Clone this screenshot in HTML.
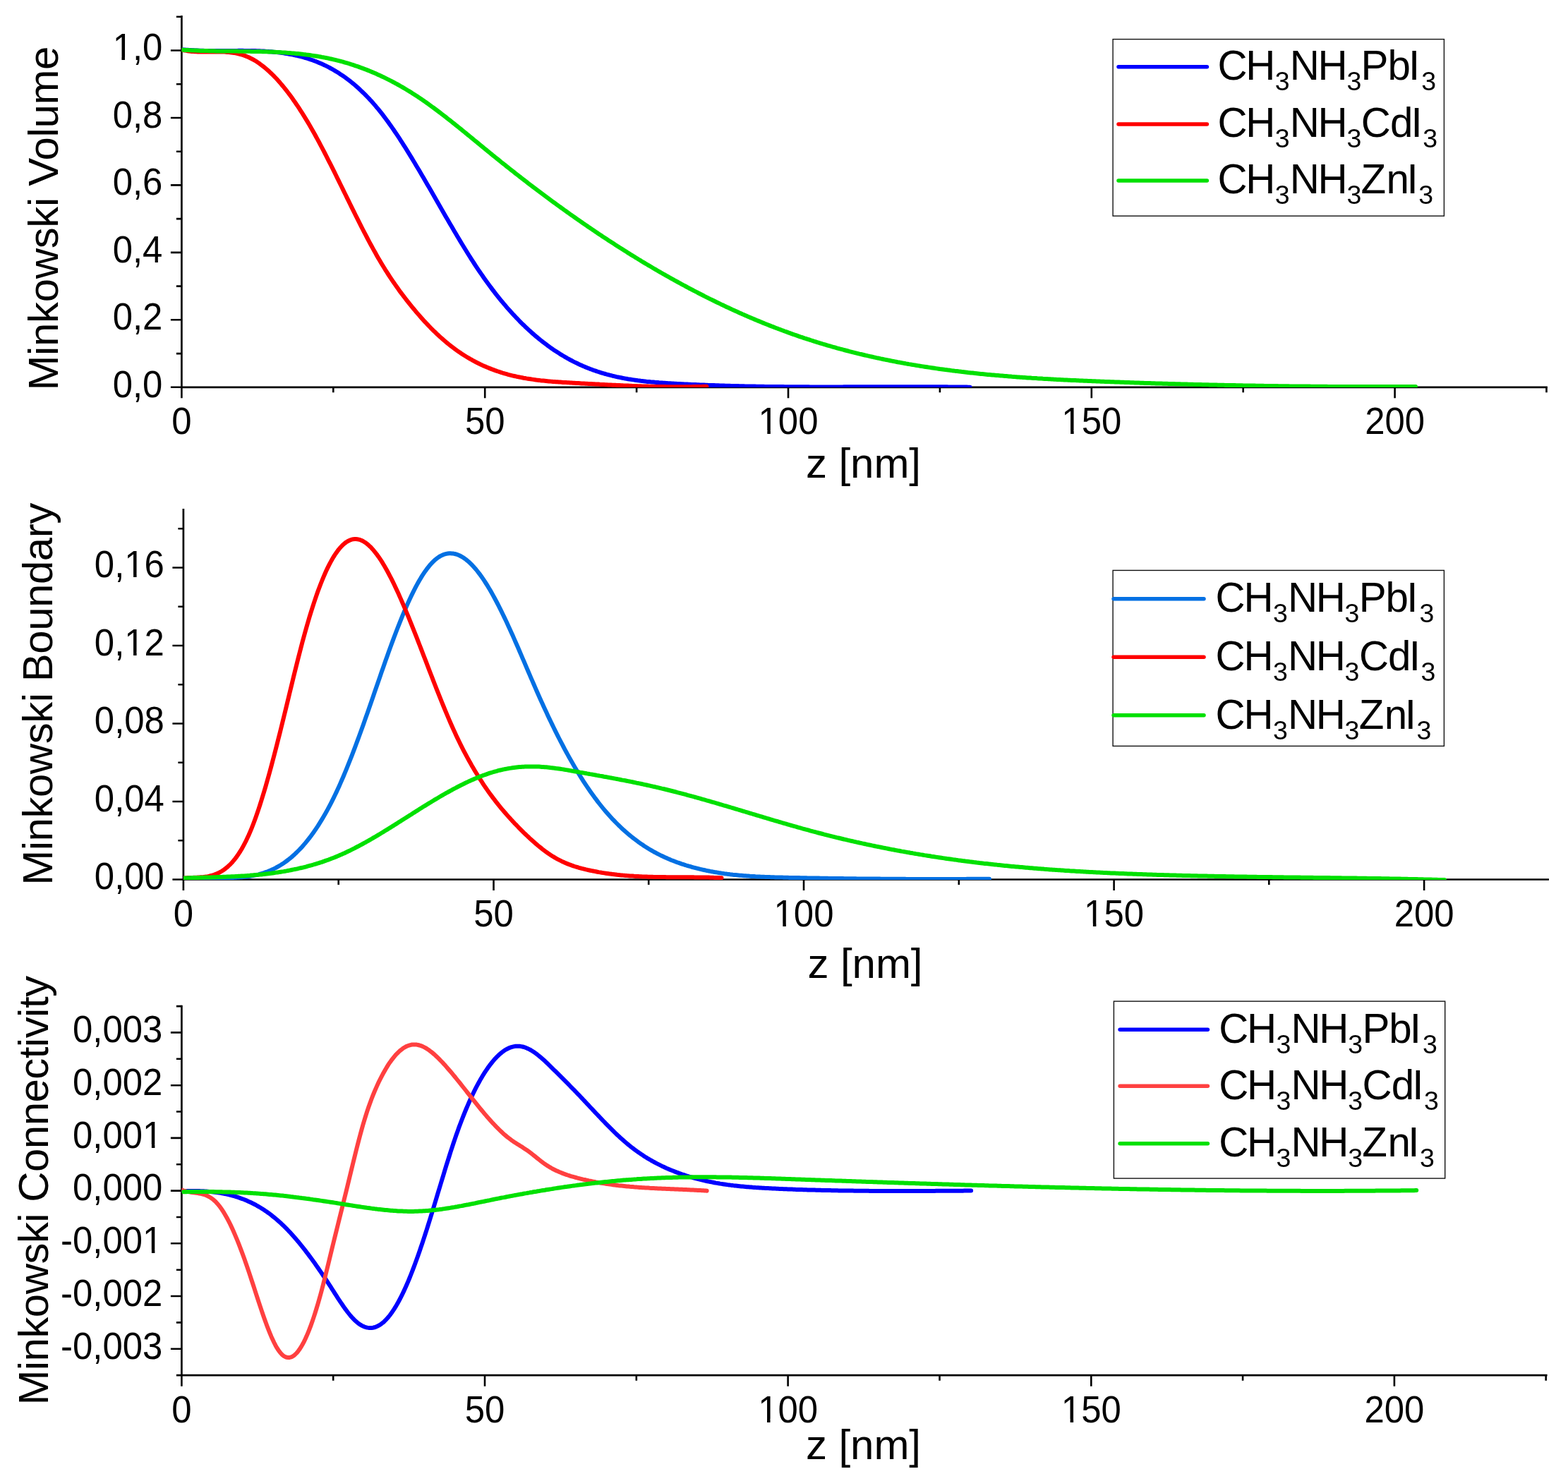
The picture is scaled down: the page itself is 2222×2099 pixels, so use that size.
<!DOCTYPE html>
<html><head><meta charset="utf-8"><title>Minkowski functionals</title>
<style>html,body{margin:0;padding:0;background:#fff;width:2222px;height:2099px;overflow:hidden}svg{display:block}</style>
</head><body>
<svg xmlns="http://www.w3.org/2000/svg" width="2222" height="2099" viewBox="0 0 2222 2099" font-family="'Liberation Sans', Arial, Helvetica, sans-serif">
<rect width="2222" height="2099" fill="#fff"/>
<path d="M257.4 22V548.8H2192.9" fill="none" stroke="#000" stroke-width="2.7" stroke-linecap="butt"/>
<path d="M241.9 548.8H257.4M241.9 453.3H257.4M241.9 357.9H257.4M241.9 262.4H257.4M241.9 167H257.4M241.9 71.5H257.4M249.9 501.1H257.4M249.9 405.6H257.4M249.9 310.1H257.4M249.9 214.7H257.4M249.9 119.2H257.4M249.9 23.8H257.4M257.4 548.8V564.3M687.2 548.8V564.3M1117 548.8V564.3M1546.8 548.8V564.3M1976.6 548.8V564.3M472.3 548.8V556.3M902.1 548.8V556.3M1331.9 548.8V556.3M1761.7 548.8V556.3M2191.5 548.8V556.3" fill="none" stroke="#000" stroke-width="2.6"/>
<g transform="translate(230.40 562.60) scale(1 1.045)"><text x="0" y="0" font-size="50.9" text-anchor="end">0,0</text></g>
<g transform="translate(230.40 467.14) scale(1 1.045)"><text x="0" y="0" font-size="50.9" text-anchor="end">0,2</text></g>
<g transform="translate(230.40 371.68) scale(1 1.045)"><text x="0" y="0" font-size="50.9" text-anchor="end">0,4</text></g>
<g transform="translate(230.40 276.22) scale(1 1.045)"><text x="0" y="0" font-size="50.9" text-anchor="end">0,6</text></g>
<g transform="translate(230.40 180.76) scale(1 1.045)"><text x="0" y="0" font-size="50.9" text-anchor="end">0,8</text></g>
<g transform="translate(230.40 85.30) scale(1 1.045)"><text x="0" y="0" font-size="50.9" text-anchor="end">1,0</text><path d="M-68.03 -4.40H-57.96V1.2H-68.03ZM-53.46 -4.40H-43.79V1.2H-53.46Z" fill="#fff"/></g>
<g transform="translate(257.40 614.60) scale(1 1.045)"><text x="0" y="0" font-size="50.9" text-anchor="middle">0</text></g>
<g transform="translate(687.20 614.60) scale(1 1.045)"><text x="0" y="0" font-size="50.9" text-anchor="middle">50</text></g>
<g transform="translate(1117.00 614.60) scale(1 1.045)"><text x="0" y="0" font-size="50.9" text-anchor="middle">100</text><path d="M-39.73 -4.40H-29.66V1.2H-39.73ZM-25.16 -4.40H-15.49V1.2H-25.16Z" fill="#fff"/></g>
<g transform="translate(1546.80 614.60) scale(1 1.045)"><text x="0" y="0" font-size="50.9" text-anchor="middle">150</text><path d="M-39.73 -4.40H-29.66V1.2H-39.73ZM-25.16 -4.40H-15.49V1.2H-25.16Z" fill="#fff"/></g>
<g transform="translate(1976.60 614.60) scale(1 1.045)"><text x="0" y="0" font-size="50.9" text-anchor="middle">200</text></g>
<text x="1142" y="677.3" font-size="60" textLength="163" lengthAdjust="spacing">z [nm]</text>
<text transform="translate(82.2 553.5) rotate(-90)" font-size="60" textLength="488" lengthAdjust="spacing">Minkowski Volume</text>
<clipPath id="c1"><rect x="257.4" y="0" width="1934.6" height="549.1"/></clipPath><g clip-path="url(#c1)">
<path d="M258 70.2 260 70.4 262 70.5 264 70.7 266 70.8 268 71 270 71.1 272 71.2 274 71.3 276 71.4 278 71.5 280 71.6 282 71.7 284 71.7 286 71.8 288 71.8 290 71.9 292 71.9 294 72 296 72 298 72 300 72 302 72 304 72 306 72 308 72 310 72 312 72 314 72 316 72 318 72 320 72 322 71.9 324 71.9 326 71.9 328 71.9 330 71.9 332 71.9 334 71.9 336 71.9 338 71.8 340 71.8 342 71.8 344 71.8 346 71.9 348 71.9 350 71.9 352 71.9 354 71.9 356 72 358 72 360 72.1 362 72.1 364 72.2 366 72.3 368 72.3 370 72.4 372 72.5 374 72.6 376 72.7 378 72.9 380 73 382 73.2 384 73.3 386 73.5 388 73.7 390 73.9 392 74.1 394 74.3 396 74.6 398 74.8 400 75.1 402 75.4 404 75.7 406 76 408 76.3 410 76.7 412 77 414 77.4 416 77.8 418 78.3 420 78.7 422 79.2 424 79.6 426 80.2 428 80.7 430 81.2 432 81.8 434 82.4 436 83 438 83.7 440 84.3 442 85 444 85.7 446 86.5 448 87.2 450 88 452 88.9 454 89.7 456 90.6 458 91.5 460 92.4 462 93.4 464 94.4 466 95.4 468 96.5 470 97.6 472 98.7 474 99.9 476 101.1 478 102.3 480 103.6 482 104.9 484 106.2 486 107.5 488 108.9 490 110.4 492 111.9 494 113.4 496 114.9 498 116.5 500 118.1 502 119.8 504 121.5 506 123.3 508 125.1 510 126.9 512 128.8 514 130.7 516 132.6 518 134.6 520 136.7 522 138.8 524 140.9 526 143.1 528 145.3 530 147.6 532 149.9 534 152.3 536 154.7 538 157.2 540 159.7 542 162.2 544 164.8 546 167.5 548 170.2 550 172.9 552 175.7 554 178.5 556 181.4 558 184.3 560 187.2 562 190.2 564 193.2 566 196.2 568 199.3 570 202.4 572 205.6 574 208.7 576 211.9 578 215.1 580 218.3 582 221.6 584 224.9 586 228.2 588 231.5 590 234.9 592 238.2 594 241.6 596 245 598 248.4 600 251.8 602 255.3 604 258.7 606 262.2 608 265.6 610 269.1 612 272.6 614 276 616 279.5 618 283 620 286.5 622 290 624 293.5 626 296.9 628 300.4 630 303.9 632 307.4 634 310.8 636 314.3 638 317.7 640 321.1 642 324.5 644 327.9 646 331.3 648 334.7 650 338.1 652 341.4 654 344.7 656 348 658 351.3 660 354.5 662 357.8 664 361 666 364.1 668 367.3 670 370.4 672 373.5 674 376.6 676 379.6 678 382.6 680 385.5 682 388.4 684 391.3 686 394.2 688 397 690 399.8 692 402.5 694 405.2 696 407.9 698 410.6 700 413.2 702 415.8 704 418.3 706 420.8 708 423.3 710 425.8 712 428.2 714 430.6 716 432.9 718 435.3 720 437.6 722 439.8 724 442 726 444.2 728 446.4 730 448.5 732 450.7 734 452.7 736 454.8 738 456.8 740 458.8 742 460.7 744 462.7 746 464.6 748 466.4 750 468.3 752 470.1 754 471.9 756 473.6 758 475.4 760 477.1 762 478.7 764 480.4 766 482 768 483.6 770 485.2 772 486.7 774 488.2 776 489.7 778 491.1 780 492.6 782 494 784 495.4 786 496.7 788 498 790 499.3 792 500.6 794 501.9 796 503.1 798 504.3 800 505.5 802 506.6 804 507.8 806 508.9 808 510 810 511 812 512.1 814 513.1 816 514.1 818 515 820 516 822 516.9 824 517.8 826 518.7 828 519.5 830 520.4 832 521.2 834 522 836 522.8 838 523.5 840 524.3 842 525 844 525.7 846 526.4 848 527 850 527.7 852 528.3 854 528.9 856 529.5 858 530 860 530.6 862 531.1 864 531.7 866 532.2 868 532.7 870 533.1 872 533.6 874 534.1 876 534.5 878 534.9 880 535.3 882 535.7 884 536.1 886 536.5 888 536.8 890 537.2 892 537.5 894 537.8 896 538.1 898 538.4 900 538.7 902 539 904 539.3 906 539.5 908 539.8 910 540 912 540.2 914 540.4 916 540.7 918 540.9 920 541.1 922 541.3 924 541.4 926 541.6 928 541.8 930 541.9 932 542.1 934 542.3 936 542.4 938 542.5 940 542.7 942 542.8 944 542.9 946 543.1 948 543.2 950 543.3 952 543.4 954 543.5 956 543.7 958 543.8 960 543.9 962 544 964 544.1 966 544.2 968 544.3 970 544.4 972 544.5 974 544.6 976 544.7 978 544.8 980 544.9 982 545 984 545 986 545.1 988 545.2 990 545.3 992 545.4 994 545.5 996 545.6 998 545.6 1000 545.7 1002 545.8 1004 545.9 1006 545.9 1008 546 1010 546.1 1012 546.1 1014 546.2 1016 546.3 1018 546.3 1020 546.4 1022 546.5 1024 546.5 1026 546.6 1028 546.7 1030 546.7 1032 546.8 1034 546.8 1036 546.9 1038 546.9 1040 547 1042 547 1044 547.1 1046 547.1 1048 547.2 1050 547.2 1052 547.3 1054 547.3 1056 547.4 1058 547.4 1060 547.4 1062 547.5 1064 547.5 1066 547.6 1068 547.6 1070 547.6 1072 547.7 1074 547.7 1076 547.7 1078 547.8 1080 547.8 1082 547.8 1084 547.9 1086 547.9 1088 547.9 1090 547.9 1092 548 1094 548 1096 548 1098 548 1100 548.1 1102 548.1 1104 548.1 1106 548.1 1108 548.1 1110 548.1 1112 548.2 1114 548.2 1116 548.2 1118 548.2 1120 548.2 1122 548.2 1124 548.3 1126 548.3 1128 548.3 1130 548.3 1132 548.3 1134 548.3 1136 548.3 1138 548.3 1140 548.3 1142 548.3 1144 548.3 1146 548.3 1148 548.4 1150 548.4 1152 548.4 1154 548.4 1156 548.4 1158 548.4 1160 548.4 1162 548.4 1164 548.4 1166 548.4 1168 548.4 1170 548.4 1172 548.4 1174 548.4 1176 548.4 1178 548.4 1180 548.4 1182 548.4 1184 548.4 1186 548.4 1188 548.4 1190 548.4 1192 548.4 1194 548.4 1196 548.3 1198 548.3 1200 548.3 1202 548.3 1204 548.3 1206 548.3 1208 548.3 1210 548.3 1212 548.3 1214 548.3 1216 548.3 1218 548.3 1220 548.3 1222 548.3 1224 548.3 1226 548.3 1228 548.3 1230 548.3 1232 548.3 1234 548.2 1236 548.2 1238 548.2 1240 548.2 1242 548.2 1244 548.2 1246 548.2 1248 548.2 1250 548.2 1252 548.2 1254 548.2 1256 548.2 1258 548.2 1260 548.2 1262 548.2 1264 548.2 1266 548.2 1268 548.2 1270 548.2 1272 548.2 1274 548.2 1276 548.2 1278 548.2 1280 548.2 1282 548.2 1284 548.2 1286 548.2 1288 548.2 1290 548.2 1292 548.2 1294 548.2 1296 548.2 1298 548.2 1300 548.2 1302 548.2 1304 548.2 1306 548.2 1308 548.2 1310 548.2 1312 548.2 1314 548.2 1316 548.2 1318 548.2 1320 548.2 1322 548.2 1324 548.2 1326 548.2 1328 548.3 1330 548.3 1332 548.3 1334 548.3 1336 548.3 1338 548.3 1340 548.3 1342 548.3 1344 548.4 1346 548.4 1348 548.4 1350 548.4 1352 548.4 1354 548.5 1356 548.5 1358 548.5 1360 548.5 1362 548.5 1364 548.6 1366 548.6 1368 548.6 1370 548.6 1372 548.7 1374 548.7 1374.5 548.7" fill="none" stroke="#0000ff" stroke-width="6" stroke-linejoin="round" stroke-linecap="round"/>
<path d="M258 70.7 260 71.2 262 71.6 264 71.9 266 72.2 268 72.5 270 72.7 272 72.9 274 73.1 276 73.2 278 73.3 280 73.4 282 73.5 284 73.5 286 73.5 288 73.5 290 73.5 292 73.5 294 73.5 296 73.5 298 73.4 300 73.4 302 73.4 304 73.4 306 73.4 308 73.4 310 73.4 312 73.4 314 73.5 316 73.5 318 73.6 320 73.7 322 73.9 324 74 326 74.2 328 74.5 330 74.8 332 75.1 334 75.4 336 75.9 338 76.3 340 76.8 342 77.4 344 78 346 78.7 348 79.4 350 80.2 352 81 354 82 356 83 358 84 360 85.1 362 86.3 364 87.6 366 88.9 368 90.3 370 91.8 372 93.3 374 94.9 376 96.5 378 98.2 380 100 382 101.8 384 103.7 386 105.6 388 107.6 390 109.7 392 111.8 394 114 396 116.3 398 118.6 400 121 402 123.4 404 125.9 406 128.4 408 131 410 133.6 412 136.3 414 139.1 416 141.9 418 144.8 420 147.7 422 150.7 424 153.7 426 156.8 428 159.9 430 163.1 432 166.3 434 169.6 436 172.9 438 176.3 440 179.7 442 183.2 444 186.8 446 190.3 448 194 450 197.6 452 201.3 454 205.1 456 208.9 458 212.7 460 216.5 462 220.4 464 224.3 466 228.3 468 232.2 470 236.2 472 240.2 474 244.2 476 248.3 478 252.3 480 256.4 482 260.5 484 264.5 486 268.6 488 272.7 490 276.8 492 280.9 494 284.9 496 289 498 293.1 500 297.1 502 301.1 504 305.2 506 309.2 508 313.2 510 317.1 512 321.1 514 325 516 328.9 518 332.7 520 336.5 522 340.3 524 344.1 526 347.8 528 351.4 530 355.1 532 358.6 534 362.2 536 365.7 538 369.1 540 372.5 542 375.8 544 379 546 382.3 548 385.4 550 388.5 552 391.6 554 394.6 556 397.6 558 400.5 560 403.4 562 406.3 564 409.1 566 411.9 568 414.6 570 417.3 572 419.9 574 422.5 576 425.1 578 427.7 580 430.2 582 432.7 584 435.1 586 437.5 588 439.9 590 442.3 592 444.6 594 446.9 596 449.2 598 451.5 600 453.7 602 455.9 604 458 606 460.1 608 462.2 610 464.3 612 466.3 614 468.3 616 470.2 618 472.2 620 474.1 622 475.9 624 477.8 626 479.5 628 481.3 630 483 632 484.7 634 486.4 636 488 638 489.6 640 491.2 642 492.7 644 494.2 646 495.6 648 497.1 650 498.5 652 499.8 654 501.2 656 502.5 658 503.8 660 505 662 506.2 664 507.4 666 508.6 668 509.7 670 510.8 672 511.9 674 513 676 514 678 515 680 516 682 516.9 684 517.9 686 518.8 688 519.6 690 520.5 692 521.3 694 522.1 696 522.9 698 523.7 700 524.4 702 525.2 704 525.9 706 526.5 708 527.2 710 527.8 712 528.5 714 529.1 716 529.7 718 530.2 720 530.8 722 531.3 724 531.8 726 532.3 728 532.8 730 533.2 732 533.7 734 534.1 736 534.5 738 534.9 740 535.3 742 535.7 744 536 746 536.4 748 536.7 750 537 752 537.3 754 537.6 756 537.9 758 538.2 760 538.5 762 538.7 764 538.9 766 539.2 768 539.4 770 539.6 772 539.8 774 540 776 540.2 778 540.4 780 540.6 782 540.7 784 540.9 786 541 788 541.2 790 541.3 792 541.5 794 541.6 796 541.7 798 541.9 800 542 802 542.1 804 542.2 806 542.3 808 542.5 810 542.6 812 542.7 814 542.8 816 542.9 818 543 820 543.1 822 543.2 824 543.4 826 543.5 828 543.6 830 543.7 832 543.8 834 543.9 836 544 838 544.1 840 544.2 842 544.3 844 544.4 846 544.5 848 544.6 850 544.8 852 544.9 854 545 856 545.1 858 545.2 860 545.3 862 545.4 864 545.5 866 545.6 868 545.7 870 545.8 872 545.8 874 545.9 876 546 878 546.1 880 546.2 882 546.3 884 546.4 886 546.5 888 546.6 890 546.6 892 546.7 894 546.8 896 546.9 898 547 900 547 902 547.1 904 547.2 906 547.2 908 547.3 910 547.4 912 547.4 914 547.5 916 547.6 918 547.6 920 547.7 922 547.7 924 547.8 926 547.8 928 547.9 930 547.9 932 548 934 548 936 548 938 548.1 940 548.1 942 548.1 944 548.2 946 548.2 948 548.2 950 548.2 952 548.2 954 548.3 956 548.3 958 548.3 960 548.3 962 548.3 964 548.3 966 548.3 968 548.3 970 548.3 972 548.3 974 548.2 976 548.2 978 548.2 980 548.2 982 548.1 984 548.1 986 548.1 988 548 990 548 992 548 994 547.9 996 547.8 998 547.8 1000 547.7 1001.3 547.7" fill="none" stroke="#ff0000" stroke-width="6" stroke-linejoin="round" stroke-linecap="round"/>
<path d="M258 70.6 260 70.7 262 70.9 264 71 266 71.1 268 71.2 270 71.3 272 71.4 274 71.5 276 71.6 278 71.6 280 71.7 282 71.8 284 71.9 286 71.9 288 72 290 72 292 72.1 294 72.1 296 72.2 298 72.2 300 72.3 302 72.3 304 72.3 306 72.4 308 72.4 310 72.4 312 72.4 314 72.5 316 72.5 318 72.5 320 72.5 322 72.5 324 72.6 326 72.6 328 72.6 330 72.6 332 72.6 334 72.6 336 72.6 338 72.7 340 72.7 342 72.7 344 72.7 346 72.7 348 72.8 350 72.8 352 72.8 354 72.8 356 72.9 358 72.9 360 72.9 362 72.9 364 73 366 73 368 73.1 370 73.1 372 73.2 374 73.2 376 73.3 378 73.3 380 73.4 382 73.5 384 73.6 386 73.6 388 73.7 390 73.8 392 73.9 394 74 396 74.1 398 74.2 400 74.4 402 74.5 404 74.6 406 74.7 408 74.9 410 75 412 75.2 414 75.4 416 75.5 418 75.7 420 75.9 422 76.1 424 76.3 426 76.5 428 76.7 430 77 432 77.2 434 77.5 436 77.7 438 78 440 78.3 442 78.6 444 78.9 446 79.2 448 79.5 450 79.8 452 80.1 454 80.5 456 80.9 458 81.2 460 81.6 462 82 464 82.4 466 82.8 468 83.3 470 83.7 472 84.2 474 84.6 476 85.1 478 85.6 480 86.1 482 86.6 484 87.2 486 87.7 488 88.3 490 88.9 492 89.4 494 90 496 90.7 498 91.3 500 91.9 502 92.6 504 93.3 506 93.9 508 94.6 510 95.4 512 96.1 514 96.8 516 97.6 518 98.3 520 99.1 522 99.9 524 100.7 526 101.6 528 102.4 530 103.2 532 104.1 534 105 536 105.9 538 106.8 540 107.7 542 108.7 544 109.6 546 110.6 548 111.6 550 112.6 552 113.6 554 114.6 556 115.7 558 116.7 560 117.8 562 118.9 564 120 566 121.1 568 122.3 570 123.4 572 124.6 574 125.8 576 127 578 128.2 580 129.4 582 130.6 584 131.9 586 133.2 588 134.5 590 135.8 592 137.1 594 138.4 596 139.8 598 141.1 600 142.5 602 143.9 604 145.3 606 146.7 608 148.2 610 149.6 612 151.1 614 152.5 616 154 618 155.5 620 157 622 158.5 624 160 626 161.6 628 163.1 630 164.6 632 166.2 634 167.8 636 169.3 638 170.9 640 172.5 642 174.1 644 175.7 646 177.3 648 178.9 650 180.5 652 182.1 654 183.7 656 185.4 658 187 660 188.6 662 190.3 664 191.9 666 193.5 668 195.2 670 196.8 672 198.5 674 200.1 676 201.7 678 203.4 680 205 682 206.7 684 208.3 686 210 688 211.6 690 213.2 692 214.9 694 216.5 696 218.1 698 219.8 700 221.4 702 223 704 224.6 706 226.2 708 227.8 710 229.5 712 231.1 714 232.7 716 234.2 718 235.8 720 237.4 722 239 724 240.6 726 242.2 728 243.7 730 245.3 732 246.9 734 248.4 736 250 738 251.5 740 253.1 742 254.6 744 256.2 746 257.7 748 259.3 750 260.8 752 262.3 754 263.8 756 265.4 758 266.9 760 268.4 762 269.9 764 271.4 766 272.9 768 274.4 770 275.9 772 277.4 774 278.9 776 280.4 778 281.8 780 283.3 782 284.8 784 286.3 786 287.7 788 289.2 790 290.6 792 292.1 794 293.5 796 295 798 296.4 800 297.9 802 299.3 804 300.7 806 302.1 808 303.6 810 305 812 306.4 814 307.8 816 309.2 818 310.6 820 312 822 313.4 824 314.8 826 316.2 828 317.6 830 318.9 832 320.3 834 321.7 836 323 838 324.4 840 325.8 842 327.1 844 328.5 846 329.8 848 331.2 850 332.5 852 333.8 854 335.2 856 336.5 858 337.8 860 339.1 862 340.4 864 341.7 866 343 868 344.3 870 345.6 872 346.9 874 348.2 876 349.5 878 350.8 880 352 882 353.3 884 354.6 886 355.8 888 357.1 890 358.4 892 359.6 894 360.9 896 362.1 898 363.3 900 364.6 902 365.8 904 367 906 368.2 908 369.4 910 370.7 912 371.9 914 373.1 916 374.3 918 375.5 920 376.6 922 377.8 924 379 926 380.2 928 381.4 930 382.5 932 383.7 934 384.9 936 386 938 387.2 940 388.3 942 389.4 944 390.6 946 391.7 948 392.8 950 394 952 395.1 954 396.2 956 397.3 958 398.4 960 399.5 962 400.6 964 401.7 966 402.8 968 403.9 970 404.9 972 406 974 407.1 976 408.2 978 409.2 980 410.3 982 411.3 984 412.4 986 413.4 988 414.4 990 415.5 992 416.5 994 417.5 996 418.5 998 419.6 1000 420.6 1002 421.6 1004 422.6 1006 423.6 1008 424.6 1010 425.5 1012 426.5 1014 427.5 1016 428.5 1018 429.4 1020 430.4 1022 431.4 1024 432.3 1026 433.3 1028 434.2 1030 435.2 1032 436.1 1034 437 1036 437.9 1038 438.9 1040 439.8 1042 440.7 1044 441.6 1046 442.5 1048 443.4 1050 444.3 1052 445.2 1054 446 1056 446.9 1058 447.8 1060 448.7 1062 449.5 1064 450.4 1066 451.2 1068 452.1 1070 452.9 1072 453.8 1074 454.6 1076 455.4 1078 456.2 1080 457.1 1082 457.9 1084 458.7 1086 459.5 1088 460.3 1090 461.1 1092 461.9 1094 462.7 1096 463.4 1098 464.2 1100 465 1102 465.7 1104 466.5 1106 467.2 1108 468 1110 468.7 1112 469.5 1114 470.2 1116 470.9 1118 471.7 1120 472.4 1122 473.1 1124 473.8 1126 474.5 1128 475.2 1130 475.9 1132 476.6 1134 477.3 1136 477.9 1138 478.6 1140 479.3 1142 479.9 1144 480.6 1146 481.2 1148 481.9 1150 482.5 1152 483.2 1154 483.8 1156 484.4 1158 485.1 1160 485.7 1162 486.3 1164 486.9 1166 487.5 1168 488.1 1170 488.7 1172 489.3 1174 489.9 1176 490.4 1178 491 1180 491.6 1182 492.1 1184 492.7 1186 493.3 1188 493.8 1190 494.4 1192 494.9 1194 495.4 1196 496 1198 496.5 1200 497 1202 497.5 1204 498.1 1206 498.6 1208 499.1 1210 499.6 1212 500.1 1214 500.6 1216 501.1 1218 501.6 1220 502 1222 502.5 1224 503 1226 503.5 1228 503.9 1230 504.4 1232 504.8 1234 505.3 1236 505.7 1238 506.2 1240 506.6 1242 507.1 1244 507.5 1246 507.9 1248 508.4 1250 508.8 1252 509.2 1254 509.6 1256 510 1258 510.4 1260 510.8 1262 511.2 1264 511.6 1266 512 1268 512.4 1270 512.8 1272 513.2 1274 513.5 1276 513.9 1278 514.3 1280 514.6 1282 515 1284 515.4 1286 515.7 1288 516.1 1290 516.4 1292 516.8 1294 517.1 1296 517.4 1298 517.8 1300 518.1 1302 518.4 1304 518.8 1306 519.1 1308 519.4 1310 519.7 1312 520 1314 520.3 1316 520.6 1318 520.9 1320 521.2 1322 521.5 1324 521.8 1326 522.1 1328 522.4 1330 522.7 1332 523 1334 523.2 1336 523.5 1338 523.8 1340 524.1 1342 524.3 1344 524.6 1346 524.8 1348 525.1 1350 525.4 1352 525.6 1354 525.9 1356 526.1 1358 526.3 1360 526.6 1362 526.8 1364 527.1 1366 527.3 1368 527.5 1370 527.7 1372 528 1374 528.2 1376 528.4 1378 528.6 1380 528.8 1382 529.1 1384 529.3 1386 529.5 1388 529.7 1390 529.9 1392 530.1 1394 530.3 1396 530.5 1398 530.7 1400 530.9 1402 531 1404 531.2 1406 531.4 1408 531.6 1410 531.8 1412 532 1414 532.1 1416 532.3 1418 532.5 1420 532.6 1422 532.8 1424 533 1426 533.1 1428 533.3 1430 533.5 1432 533.6 1434 533.8 1436 533.9 1438 534.1 1440 534.2 1442 534.4 1444 534.5 1446 534.7 1448 534.8 1450 535 1452 535.1 1454 535.2 1456 535.4 1458 535.5 1460 535.6 1462 535.8 1464 535.9 1466 536 1468 536.1 1470 536.3 1472 536.4 1474 536.5 1476 536.6 1478 536.8 1480 536.9 1482 537 1484 537.1 1486 537.2 1488 537.3 1490 537.4 1492 537.5 1494 537.7 1496 537.8 1498 537.9 1500 538 1502 538.1 1504 538.2 1506 538.3 1508 538.4 1510 538.5 1512 538.6 1514 538.7 1516 538.8 1518 538.9 1520 539 1522 539 1524 539.1 1526 539.2 1528 539.3 1530 539.4 1532 539.5 1534 539.6 1536 539.7 1538 539.8 1540 539.8 1542 539.9 1544 540 1546 540.1 1548 540.2 1550 540.3 1552 540.3 1554 540.4 1556 540.5 1558 540.6 1560 540.7 1562 540.7 1564 540.8 1566 540.9 1568 541 1570 541 1572 541.1 1574 541.2 1576 541.3 1578 541.3 1580 541.4 1582 541.5 1584 541.6 1586 541.6 1588 541.7 1590 541.8 1592 541.8 1594 541.9 1596 542 1598 542.1 1600 542.1 1602 542.2 1604 542.3 1606 542.3 1608 542.4 1610 542.5 1612 542.5 1614 542.6 1616 542.7 1618 542.7 1620 542.8 1622 542.9 1624 542.9 1626 543 1628 543 1630 543.1 1632 543.2 1634 543.2 1636 543.3 1638 543.4 1640 543.4 1642 543.5 1644 543.5 1646 543.6 1648 543.7 1650 543.7 1652 543.8 1654 543.8 1656 543.9 1658 544 1660 544 1662 544.1 1664 544.1 1666 544.2 1668 544.2 1670 544.3 1672 544.3 1674 544.4 1676 544.4 1678 544.5 1680 544.6 1682 544.6 1684 544.7 1686 544.7 1688 544.8 1690 544.8 1692 544.9 1694 544.9 1696 545 1698 545 1700 545.1 1702 545.1 1704 545.2 1706 545.2 1708 545.2 1710 545.3 1712 545.3 1714 545.4 1716 545.4 1718 545.5 1720 545.5 1722 545.6 1724 545.6 1726 545.7 1728 545.7 1730 545.7 1732 545.8 1734 545.8 1736 545.9 1738 545.9 1740 545.9 1742 546 1744 546 1746 546.1 1748 546.1 1750 546.1 1752 546.2 1754 546.2 1756 546.3 1758 546.3 1760 546.3 1762 546.4 1764 546.4 1766 546.4 1768 546.5 1770 546.5 1772 546.5 1774 546.6 1776 546.6 1778 546.6 1780 546.7 1782 546.7 1784 546.7 1786 546.8 1788 546.8 1790 546.8 1792 546.9 1794 546.9 1796 546.9 1798 547 1800 547 1802 547 1804 547 1806 547.1 1808 547.1 1810 547.1 1812 547.2 1814 547.2 1816 547.2 1818 547.2 1820 547.3 1822 547.3 1824 547.3 1826 547.3 1828 547.4 1830 547.4 1832 547.4 1834 547.4 1836 547.4 1838 547.5 1840 547.5 1842 547.5 1844 547.5 1846 547.6 1848 547.6 1850 547.6 1852 547.6 1854 547.6 1856 547.6 1858 547.7 1860 547.7 1862 547.7 1864 547.7 1866 547.7 1868 547.8 1870 547.8 1872 547.8 1874 547.8 1876 547.8 1878 547.8 1880 547.8 1882 547.9 1884 547.9 1886 547.9 1888 547.9 1890 547.9 1892 547.9 1894 547.9 1896 547.9 1898 548 1900 548 1902 548 1904 548 1906 548 1908 548 1910 548 1912 548 1914 548 1916 548 1918 548 1920 548 1922 548.1 1924 548.1 1926 548.1 1928 548.1 1930 548.1 1932 548.1 1934 548.1 1936 548.1 1938 548.1 1940 548.1 1942 548.1 1944 548.1 1946 548.1 1948 548.1 1950 548.1 1952 548.1 1954 548.1 1956 548.1 1958 548.1 1960 548.1 1962 548.1 1964 548.1 1966 548.1 1968 548.1 1970 548.1 1972 548.1 1974 548.1 1976 548.1 1978 548.1 1980 548.1 1982 548.1 1984 548.1 1986 548.1 1988 548.1 1990 548.1 1992 548.1 1994 548 1996 548 1998 548 2000 548 2002 548 2004 548 2006 548" fill="none" stroke="#00e000" stroke-width="6" stroke-linejoin="round" stroke-linecap="round"/>
</g>
<rect x="1577.1" y="55.6" width="469.3" height="250.5" fill="none" stroke="#111" stroke-width="1.4"/>
<path d="M1585 94.7H1710.4" stroke="#0000ff" stroke-width="5.5" stroke-linecap="round"/>
<text font-size="58.3"><tspan x="1725.4" y="112.7">C</tspan><tspan x="1765.2" y="112.7">H</tspan><tspan x="1806.7" y="127.7" font-size="37.5">3</tspan><tspan x="1827.7" y="112.7">N</tspan><tspan x="1867.5" y="112.7">H</tspan><tspan x="1908.4" y="127.7" font-size="37.5">3</tspan><tspan x="1928.6" y="112.7">P</tspan><tspan x="1966.4" y="112.7">b</tspan><tspan x="1996.0" y="112.7">I</tspan><tspan x="2014.2" y="127.7" font-size="37.5">3</tspan></text>
<path d="M1585 176H1710.4" stroke="#ff0000" stroke-width="5.5" stroke-linecap="round"/>
<text font-size="58.3"><tspan x="1725.4" y="193.9">C</tspan><tspan x="1765.2" y="193.9">H</tspan><tspan x="1806.7" y="208.9" font-size="37.5">3</tspan><tspan x="1827.7" y="193.9">N</tspan><tspan x="1867.5" y="193.9">H</tspan><tspan x="1908.4" y="208.9" font-size="37.5">3</tspan><tspan x="1928.7" y="193.9">C</tspan><tspan x="1969.9" y="193.9">d</tspan><tspan x="1999.5" y="193.9">I</tspan><tspan x="2016.3" y="208.9" font-size="37.5">3</tspan></text>
<path d="M1585 256H1710.4" stroke="#00e000" stroke-width="5.5" stroke-linecap="round"/>
<text font-size="58.3"><tspan x="1725.4" y="274.0">C</tspan><tspan x="1765.2" y="274.0">H</tspan><tspan x="1806.7" y="289.0" font-size="37.5">3</tspan><tspan x="1827.7" y="274.0">N</tspan><tspan x="1867.5" y="274.0">H</tspan><tspan x="1908.4" y="289.0" font-size="37.5">3</tspan><tspan x="1928.5" y="274.0">Z</tspan><tspan x="1964.6" y="274.0">n</tspan><tspan x="1993.5" y="274.0">I</tspan><tspan x="2010.3" y="289.0" font-size="37.5">3</tspan></text>
<path d="M259.9 721.1V1246.5H2195" fill="none" stroke="#000" stroke-width="2.7" stroke-linecap="butt"/>
<path d="M244.4 1246.5H259.9M244.4 1136H259.9M244.4 1025.5H259.9M244.4 915H259.9M244.4 804.5H259.9M252.4 1191.2H259.9M252.4 1080.8H259.9M252.4 970.2H259.9M252.4 859.8H259.9M252.4 749.2H259.9M259.9 1246.5V1262M699.5 1246.5V1262M1139 1246.5V1262M1578.6 1246.5V1262M2018.1 1246.5V1262M479.7 1246.5V1254M919.2 1246.5V1254M1358.8 1246.5V1254M1798.3 1246.5V1254" fill="none" stroke="#000" stroke-width="2.6"/>
<g transform="translate(232.90 1260.30) scale(1 1.045)"><text x="0" y="0" font-size="50.9" text-anchor="end">0,00</text></g>
<g transform="translate(232.90 1149.80) scale(1 1.045)"><text x="0" y="0" font-size="50.9" text-anchor="end">0,04</text></g>
<g transform="translate(232.90 1039.30) scale(1 1.045)"><text x="0" y="0" font-size="50.9" text-anchor="end">0,08</text></g>
<g transform="translate(232.90 928.80) scale(1 1.045)"><text x="0" y="0" font-size="50.9" text-anchor="end">0,12</text><path d="M-53.89 -4.40H-43.82V1.2H-53.89ZM-39.32 -4.40H-29.64V1.2H-39.32Z" fill="#fff"/></g>
<g transform="translate(232.90 818.30) scale(1 1.045)"><text x="0" y="0" font-size="50.9" text-anchor="end">0,16</text><path d="M-53.89 -4.40H-43.82V1.2H-53.89ZM-39.32 -4.40H-29.64V1.2H-39.32Z" fill="#fff"/></g>
<g transform="translate(259.90 1313.30) scale(1 1.045)"><text x="0" y="0" font-size="50.9" text-anchor="middle">0</text></g>
<g transform="translate(699.45 1313.30) scale(1 1.045)"><text x="0" y="0" font-size="50.9" text-anchor="middle">50</text></g>
<g transform="translate(1139.00 1313.30) scale(1 1.045)"><text x="0" y="0" font-size="50.9" text-anchor="middle">100</text><path d="M-39.73 -4.40H-29.66V1.2H-39.73ZM-25.16 -4.40H-15.49V1.2H-25.16Z" fill="#fff"/></g>
<g transform="translate(1578.55 1313.30) scale(1 1.045)"><text x="0" y="0" font-size="50.9" text-anchor="middle">150</text><path d="M-39.73 -4.40H-29.66V1.2H-39.73ZM-25.16 -4.40H-15.49V1.2H-25.16Z" fill="#fff"/></g>
<g transform="translate(2018.10 1313.30) scale(1 1.045)"><text x="0" y="0" font-size="50.9" text-anchor="middle">200</text></g>
<text x="1144.5" y="1385.7" font-size="60" textLength="163" lengthAdjust="spacing">z [nm]</text>
<text transform="translate(73.9 1254.8) rotate(-90)" font-size="60" textLength="542" lengthAdjust="spacing">Minkowski Boundary</text>
<clipPath id="c2"><rect x="259.9" y="700" width="1935.1" height="546.9000000000001"/></clipPath><g clip-path="url(#c2)">
<path d="M260.5 1246.9 262.5 1246.6 264.5 1246.2 266.5 1245.9 268.5 1245.7 270.5 1245.4 272.5 1245.2 274.5 1245 276.5 1244.8 278.5 1244.7 280.5 1244.6 282.5 1244.4 284.5 1244.4 286.5 1244.3 288.5 1244.2 290.5 1244.1 292.5 1244.1 294.5 1244.1 296.5 1244.1 298.5 1244 300.5 1244 302.5 1244 304.5 1244 306.5 1244 308.5 1244 310.5 1244 312.5 1244.1 314.5 1244.1 316.5 1244.1 318.5 1244.1 320.5 1244 322.5 1244 324.5 1244 326.5 1244 328.5 1243.9 330.5 1243.9 332.5 1243.8 334.5 1243.7 336.5 1243.6 338.5 1243.5 340.5 1243.3 342.5 1243.2 344.5 1243 346.5 1242.8 348.5 1242.6 350.5 1242.3 352.5 1242 354.5 1241.7 356.5 1241.4 358.5 1241 360.5 1240.6 362.5 1240.2 364.5 1239.8 366.5 1239.3 368.5 1238.7 370.5 1238.2 372.5 1237.5 374.5 1236.9 376.5 1236.2 378.5 1235.5 380.5 1234.7 382.5 1233.9 384.5 1233 386.5 1232.1 388.5 1231.1 390.5 1230.1 392.5 1229 394.5 1227.9 396.5 1226.7 398.5 1225.5 400.5 1224.2 402.5 1222.9 404.5 1221.5 406.5 1220 408.5 1218.5 410.5 1216.9 412.5 1215.3 414.5 1213.6 416.5 1211.8 418.5 1209.9 420.5 1208 422.5 1206 424.5 1204 426.5 1201.9 428.5 1199.7 430.5 1197.4 432.5 1195.1 434.5 1192.7 436.5 1190.2 438.5 1187.6 440.5 1185 442.5 1182.2 444.5 1179.4 446.5 1176.6 448.5 1173.6 450.5 1170.6 452.5 1167.4 454.5 1164.2 456.5 1160.9 458.5 1157.5 460.5 1154.1 462.5 1150.5 464.5 1146.9 466.5 1143.1 468.5 1139.3 470.5 1135.4 472.5 1131.4 474.5 1127.3 476.5 1123.1 478.5 1118.8 480.5 1114.4 482.5 1109.9 484.5 1105.3 486.5 1100.7 488.5 1095.9 490.5 1091.1 492.5 1086.2 494.5 1081.2 496.5 1076.2 498.5 1071.1 500.5 1065.9 502.5 1060.6 504.5 1055.3 506.5 1049.9 508.5 1044.5 510.5 1039 512.5 1033.5 514.5 1027.9 516.5 1022.3 518.5 1016.6 520.5 1010.9 522.5 1005.2 524.5 999.4 526.5 993.7 528.5 987.9 530.5 982.1 532.5 976.3 534.5 970.5 536.5 964.7 538.5 958.9 540.5 953.1 542.5 947.4 544.5 941.7 546.5 936 548.5 930.4 550.5 924.8 552.5 919.3 554.5 913.8 556.5 908.4 558.5 903 560.5 897.7 562.5 892.5 564.5 887.4 566.5 882.3 568.5 877.3 570.5 872.4 572.5 867.6 574.5 862.9 576.5 858.4 578.5 853.9 580.5 849.5 582.5 845.2 584.5 841.1 586.5 837.1 588.5 833.2 590.5 829.4 592.5 825.8 594.5 822.3 596.5 818.9 598.5 815.7 600.5 812.7 602.5 809.7 604.5 806.9 606.5 804.3 608.5 801.8 610.5 799.5 612.5 797.4 614.5 795.4 616.5 793.5 618.5 791.9 620.5 790.4 622.5 789 624.5 787.9 626.5 786.9 628.5 786 630.5 785.4 632.5 784.9 634.5 784.5 636.5 784.3 638.5 784.3 640.5 784.4 642.5 784.6 644.5 785 646.5 785.5 648.5 786.2 650.5 787 652.5 788 654.5 789.1 656.5 790.3 658.5 791.7 660.5 793.2 662.5 794.8 664.5 796.5 666.5 798.4 668.5 800.4 670.5 802.5 672.5 804.7 674.5 807 676.5 809.5 678.5 812.1 680.5 814.7 682.5 817.5 684.5 820.4 686.5 823.4 688.5 826.5 690.5 829.7 692.5 833 694.5 836.3 696.5 839.8 698.5 843.4 700.5 847 702.5 850.7 704.5 854.5 706.5 858.4 708.5 862.4 710.5 866.4 712.5 870.5 714.5 874.6 716.5 878.8 718.5 883.1 720.5 887.4 722.5 891.8 724.5 896.2 726.5 900.6 728.5 905.1 730.5 909.7 732.5 914.3 734.5 918.8 736.5 923.5 738.5 928.1 740.5 932.8 742.5 937.4 744.5 942.1 746.5 946.8 748.5 951.5 750.5 956.1 752.5 960.8 754.5 965.4 756.5 970 758.5 974.6 760.5 979.2 762.5 983.7 764.5 988.2 766.5 992.7 768.5 997.1 770.5 1001.5 772.5 1005.8 774.5 1010.1 776.5 1014.4 778.5 1018.6 780.5 1022.8 782.5 1026.9 784.5 1031 786.5 1035.1 788.5 1039.1 790.5 1043.1 792.5 1047 794.5 1050.9 796.5 1054.7 798.5 1058.5 800.5 1062.3 802.5 1066 804.5 1069.6 806.5 1073.3 808.5 1076.8 810.5 1080.3 812.5 1083.8 814.5 1087.2 816.5 1090.6 818.5 1094 820.5 1097.2 822.5 1100.5 824.5 1103.7 826.5 1106.8 828.5 1109.9 830.5 1112.9 832.5 1115.9 834.5 1118.8 836.5 1121.7 838.5 1124.5 840.5 1127.3 842.5 1130.1 844.5 1132.7 846.5 1135.4 848.5 1138 850.5 1140.5 852.5 1143 854.5 1145.5 856.5 1147.9 858.5 1150.2 860.5 1152.5 862.5 1154.8 864.5 1157 866.5 1159.2 868.5 1161.4 870.5 1163.4 872.5 1165.5 874.5 1167.5 876.5 1169.5 878.5 1171.4 880.5 1173.3 882.5 1175.2 884.5 1177 886.5 1178.8 888.5 1180.5 890.5 1182.2 892.5 1183.9 894.5 1185.5 896.5 1187.1 898.5 1188.7 900.5 1190.2 902.5 1191.7 904.5 1193.2 906.5 1194.6 908.5 1196 910.5 1197.3 912.5 1198.7 914.5 1200 916.5 1201.2 918.5 1202.5 920.5 1203.7 922.5 1204.9 924.5 1206 926.5 1207.2 928.5 1208.2 930.5 1209.3 932.5 1210.4 934.5 1211.4 936.5 1212.4 938.5 1213.3 940.5 1214.3 942.5 1215.2 944.5 1216.1 946.5 1217 948.5 1217.8 950.5 1218.7 952.5 1219.5 954.5 1220.2 956.5 1221 958.5 1221.8 960.5 1222.5 962.5 1223.2 964.5 1223.9 966.5 1224.6 968.5 1225.2 970.5 1225.8 972.5 1226.5 974.5 1227.1 976.5 1227.7 978.5 1228.2 980.5 1228.8 982.5 1229.4 984.5 1229.9 986.5 1230.4 988.5 1230.9 990.5 1231.4 992.5 1231.9 994.5 1232.3 996.5 1232.8 998.5 1233.2 1000.5 1233.7 1002.5 1234.1 1004.5 1234.5 1006.5 1234.9 1008.5 1235.2 1010.5 1235.6 1012.5 1236 1014.5 1236.3 1016.5 1236.6 1018.5 1237 1020.5 1237.3 1022.5 1237.6 1024.5 1237.9 1026.5 1238.2 1028.5 1238.4 1030.5 1238.7 1032.5 1238.9 1034.5 1239.2 1036.5 1239.4 1038.5 1239.7 1040.5 1239.9 1042.5 1240.1 1044.5 1240.3 1046.5 1240.5 1048.5 1240.7 1050.5 1240.8 1052.5 1241 1054.5 1241.2 1056.5 1241.3 1058.5 1241.5 1060.5 1241.6 1062.5 1241.8 1064.5 1241.9 1066.5 1242 1068.5 1242.1 1070.5 1242.3 1072.5 1242.4 1074.5 1242.5 1076.5 1242.6 1078.5 1242.7 1080.5 1242.7 1082.5 1242.8 1084.5 1242.9 1086.5 1243 1088.5 1243.1 1090.5 1243.1 1092.5 1243.2 1094.5 1243.3 1096.5 1243.3 1098.5 1243.4 1100.5 1243.4 1102.5 1243.5 1104.5 1243.5 1106.5 1243.6 1108.5 1243.6 1110.5 1243.7 1112.5 1243.7 1114.5 1243.8 1116.5 1243.8 1118.5 1243.9 1120.5 1243.9 1122.5 1243.9 1124.5 1244 1126.5 1244 1128.5 1244.1 1130.5 1244.1 1132.5 1244.1 1134.5 1244.2 1136.5 1244.2 1138.5 1244.3 1140.5 1244.3 1142.5 1244.3 1144.5 1244.4 1146.5 1244.4 1148.5 1244.4 1150.5 1244.5 1152.5 1244.5 1154.5 1244.5 1156.5 1244.6 1158.5 1244.6 1160.5 1244.6 1162.5 1244.7 1164.5 1244.7 1166.5 1244.7 1168.5 1244.8 1170.5 1244.8 1172.5 1244.8 1174.5 1244.9 1176.5 1244.9 1178.5 1244.9 1180.5 1244.9 1182.5 1245 1184.5 1245 1186.5 1245 1188.5 1245.1 1190.5 1245.1 1192.5 1245.1 1194.5 1245.1 1196.5 1245.2 1198.5 1245.2 1200.5 1245.2 1202.5 1245.2 1204.5 1245.3 1206.5 1245.3 1208.5 1245.3 1210.5 1245.3 1212.5 1245.3 1214.5 1245.4 1216.5 1245.4 1218.5 1245.4 1220.5 1245.4 1222.5 1245.4 1224.5 1245.5 1226.5 1245.5 1228.5 1245.5 1230.5 1245.5 1232.5 1245.5 1234.5 1245.6 1236.5 1245.6 1238.5 1245.6 1240.5 1245.6 1242.5 1245.6 1244.5 1245.6 1246.5 1245.6 1248.5 1245.7 1250.5 1245.7 1252.5 1245.7 1254.5 1245.7 1256.5 1245.7 1258.5 1245.7 1260.5 1245.7 1262.5 1245.8 1264.5 1245.8 1266.5 1245.8 1268.5 1245.8 1270.5 1245.8 1272.5 1245.8 1274.5 1245.8 1276.5 1245.8 1278.5 1245.8 1280.5 1245.8 1282.5 1245.8 1284.5 1245.9 1286.5 1245.9 1288.5 1245.9 1290.5 1245.9 1292.5 1245.9 1294.5 1245.9 1296.5 1245.9 1298.5 1245.9 1300.5 1245.9 1302.5 1245.9 1304.5 1245.9 1306.5 1245.9 1308.5 1245.9 1310.5 1245.9 1312.5 1245.9 1314.5 1245.9 1316.5 1245.9 1318.5 1245.9 1320.5 1245.9 1322.5 1245.9 1324.5 1245.9 1326.5 1245.9 1328.5 1245.9 1330.5 1245.9 1332.5 1245.9 1334.5 1245.9 1336.5 1245.9 1338.5 1245.9 1340.5 1245.9 1342.5 1245.9 1344.5 1245.9 1346.5 1245.9 1348.5 1245.9 1350.5 1245.9 1352.5 1245.9 1354.5 1245.9 1356.5 1245.9 1358.5 1245.9 1360.5 1245.9 1362.5 1245.9 1364.5 1245.9 1366.5 1245.9 1368.5 1245.9 1370.5 1245.8 1372.5 1245.8 1374.5 1245.8 1376.5 1245.8 1378.5 1245.8 1380.5 1245.8 1382.5 1245.8 1384.5 1245.8 1386.5 1245.8 1388.5 1245.8 1390.5 1245.8 1392.5 1245.7 1394.5 1245.7 1396.5 1245.7 1398.5 1245.7 1400.5 1245.7 1402 1245.7" fill="none" stroke="#0370e3" stroke-width="6" stroke-linejoin="round" stroke-linecap="round"/>
<path d="M260.5 1244.6 262.5 1244.4 264.5 1244.3 266.5 1244.1 268.5 1244 270.5 1243.9 272.5 1243.9 274.5 1243.8 276.5 1243.7 278.5 1243.7 280.5 1243.6 282.5 1243.5 284.5 1243.3 286.5 1243.2 288.5 1243 290.5 1242.7 292.5 1242.4 294.5 1242.1 296.5 1241.7 298.5 1241.2 300.5 1240.7 302.5 1240.1 304.5 1239.4 306.5 1238.6 308.5 1237.7 310.5 1236.8 312.5 1235.7 314.5 1234.5 316.5 1233.2 318.5 1231.8 320.5 1230.2 322.5 1228.6 324.5 1226.7 326.5 1224.8 328.5 1222.7 330.5 1220.4 332.5 1218 334.5 1215.4 336.5 1212.6 338.5 1209.6 340.5 1206.5 342.5 1203.2 344.5 1199.6 346.5 1195.9 348.5 1192 350.5 1187.8 352.5 1183.5 354.5 1178.9 356.5 1174.1 358.5 1169 360.5 1163.7 362.5 1158.2 364.5 1152.5 366.5 1146.6 368.5 1140.5 370.5 1134.2 372.5 1127.7 374.5 1121.1 376.5 1114.3 378.5 1107.3 380.5 1100.2 382.5 1093 384.5 1085.6 386.5 1078.1 388.5 1070.5 390.5 1062.8 392.5 1055 394.5 1047.1 396.5 1039.2 398.5 1031.1 400.5 1023 402.5 1014.9 404.5 1006.7 406.5 998.5 408.5 990.2 410.5 981.9 412.5 973.7 414.5 965.5 416.5 957.3 418.5 949.2 420.5 941.2 422.5 933.2 424.5 925.4 426.5 917.7 428.5 910.1 430.5 902.7 432.5 895.5 434.5 888.4 436.5 881.5 438.5 874.7 440.5 868.2 442.5 861.8 444.5 855.6 446.5 849.6 448.5 843.8 450.5 838.1 452.5 832.7 454.5 827.5 456.5 822.5 458.5 817.6 460.5 813 462.5 808.6 464.5 804.4 466.5 800.4 468.5 796.6 470.5 793 472.5 789.6 474.5 786.4 476.5 783.5 478.5 780.7 480.5 778.1 482.5 775.8 484.5 773.7 486.5 771.7 488.5 770 490.5 768.5 492.5 767.2 494.5 766.2 496.5 765.3 498.5 764.7 500.5 764.2 502.5 764 504.5 764 506.5 764.2 508.5 764.6 510.5 765.2 512.5 766 514.5 767 516.5 768.2 518.5 769.5 520.5 771.1 522.5 772.8 524.5 774.7 526.5 776.7 528.5 778.9 530.5 781.3 532.5 783.8 534.5 786.4 536.5 789.2 538.5 792.2 540.5 795.2 542.5 798.4 544.5 801.8 546.5 805.2 548.5 808.8 550.5 812.5 552.5 816.3 554.5 820.2 556.5 824.2 558.5 828.3 560.5 832.5 562.5 836.8 564.5 841.1 566.5 845.6 568.5 850.1 570.5 854.7 572.5 859.4 574.5 864.1 576.5 868.9 578.5 873.7 580.5 878.6 582.5 883.6 584.5 888.6 586.5 893.6 588.5 898.6 590.5 903.7 592.5 908.9 594.5 914 596.5 919.2 598.5 924.4 600.5 929.6 602.5 934.7 604.5 939.9 606.5 945.1 608.5 950.3 610.5 955.5 612.5 960.7 614.5 965.8 616.5 971 618.5 976.1 620.5 981.1 622.5 986.2 624.5 991.2 626.5 996.1 628.5 1001 630.5 1005.9 632.5 1010.7 634.5 1015.4 636.5 1020.1 638.5 1024.7 640.5 1029.2 642.5 1033.7 644.5 1038.1 646.5 1042.4 648.5 1046.6 650.5 1050.8 652.5 1054.8 654.5 1058.8 656.5 1062.8 658.5 1066.6 660.5 1070.4 662.5 1074.1 664.5 1077.8 666.5 1081.3 668.5 1084.9 670.5 1088.3 672.5 1091.7 674.5 1095 676.5 1098.3 678.5 1101.5 680.5 1104.6 682.5 1107.7 684.5 1110.8 686.5 1113.8 688.5 1116.7 690.5 1119.6 692.5 1122.4 694.5 1125.2 696.5 1127.9 698.5 1130.6 700.5 1133.2 702.5 1135.8 704.5 1138.4 706.5 1140.9 708.5 1143.3 710.5 1145.8 712.5 1148.2 714.5 1150.5 716.5 1152.8 718.5 1155.1 720.5 1157.4 722.5 1159.6 724.5 1161.8 726.5 1163.9 728.5 1166.1 730.5 1168.2 732.5 1170.2 734.5 1172.3 736.5 1174.3 738.5 1176.3 740.5 1178.3 742.5 1180.3 744.5 1182.2 746.5 1184.1 748.5 1186 750.5 1187.9 752.5 1189.7 754.5 1191.5 756.5 1193.3 758.5 1195.1 760.5 1196.8 762.5 1198.5 764.5 1200.1 766.5 1201.7 768.5 1203.3 770.5 1204.8 772.5 1206.3 774.5 1207.8 776.5 1209.2 778.5 1210.6 780.5 1211.9 782.5 1213.2 784.5 1214.4 786.5 1215.6 788.5 1216.8 790.5 1217.9 792.5 1218.9 794.5 1219.9 796.5 1220.9 798.5 1221.8 800.5 1222.7 802.5 1223.6 804.5 1224.4 806.5 1225.2 808.5 1225.9 810.5 1226.6 812.5 1227.3 814.5 1228 816.5 1228.6 818.5 1229.2 820.5 1229.8 822.5 1230.3 824.5 1230.9 826.5 1231.4 828.5 1231.9 830.5 1232.4 832.5 1232.8 834.5 1233.3 836.5 1233.7 838.5 1234.1 840.5 1234.5 842.5 1234.9 844.5 1235.3 846.5 1235.7 848.5 1236.1 850.5 1236.4 852.5 1236.8 854.5 1237.1 856.5 1237.4 858.5 1237.7 860.5 1238 862.5 1238.3 864.5 1238.6 866.5 1238.8 868.5 1239.1 870.5 1239.3 872.5 1239.5 874.5 1239.8 876.5 1240 878.5 1240.2 880.5 1240.4 882.5 1240.6 884.5 1240.7 886.5 1240.9 888.5 1241.1 890.5 1241.2 892.5 1241.4 894.5 1241.5 896.5 1241.6 898.5 1241.8 900.5 1241.9 902.5 1242 904.5 1242.1 906.5 1242.2 908.5 1242.3 910.5 1242.4 912.5 1242.5 914.5 1242.5 916.5 1242.6 918.5 1242.7 920.5 1242.7 922.5 1242.8 924.5 1242.8 926.5 1242.9 928.5 1242.9 930.5 1243 932.5 1243 934.5 1243 936.5 1243.1 938.5 1243.1 940.5 1243.1 942.5 1243.1 944.5 1243.2 946.5 1243.2 948.5 1243.2 950.5 1243.2 952.5 1243.2 954.5 1243.2 956.5 1243.2 958.5 1243.2 960.5 1243.2 962.5 1243.3 964.5 1243.3 966.5 1243.3 968.5 1243.3 970.5 1243.3 972.5 1243.3 974.5 1243.3 976.5 1243.3 978.5 1243.3 980.5 1243.3 982.5 1243.3 984.5 1243.4 986.5 1243.4 988.5 1243.4 990.5 1243.4 992.5 1243.4 994.5 1243.5 996.5 1243.5 998.5 1243.5 1000.5 1243.6 1002.5 1243.6 1004.5 1243.6 1006.5 1243.7 1008.5 1243.7 1010.5 1243.8 1012.5 1243.9 1014.5 1243.9 1016.5 1244 1018.5 1244.1 1020.5 1244.2 1022.5 1244.2" fill="none" stroke="#ff0000" stroke-width="6" stroke-linejoin="round" stroke-linecap="round"/>
<path d="M260 1244.5 262 1244.4 264 1244.4 266 1244.3 268 1244.3 270 1244.2 272 1244.1 274 1244.1 276 1244 278 1244 280 1243.9 282 1243.9 284 1243.8 286 1243.7 288 1243.7 290 1243.6 292 1243.6 294 1243.5 296 1243.5 298 1243.4 300 1243.4 302 1243.3 304 1243.2 306 1243.2 308 1243.1 310 1243.1 312 1243 314 1242.9 316 1242.8 318 1242.8 320 1242.7 322 1242.6 324 1242.5 326 1242.4 328 1242.3 330 1242.3 332 1242.2 334 1242.1 336 1242 338 1241.8 340 1241.7 342 1241.6 344 1241.5 346 1241.4 348 1241.2 350 1241.1 352 1240.9 354 1240.8 356 1240.6 358 1240.5 360 1240.3 362 1240.1 364 1239.9 366 1239.8 368 1239.6 370 1239.4 372 1239.2 374 1238.9 376 1238.7 378 1238.5 380 1238.3 382 1238 384 1237.8 386 1237.5 388 1237.2 390 1236.9 392 1236.6 394 1236.4 396 1236 398 1235.7 400 1235.4 402 1235.1 404 1234.7 406 1234.4 408 1234 410 1233.6 412 1233.2 414 1232.8 416 1232.4 418 1232 420 1231.6 422 1231.2 424 1230.7 426 1230.2 428 1229.8 430 1229.3 432 1228.8 434 1228.3 436 1227.7 438 1227.2 440 1226.6 442 1226.1 444 1225.5 446 1224.9 448 1224.3 450 1223.7 452 1223.1 454 1222.4 456 1221.8 458 1221.1 460 1220.4 462 1219.7 464 1219 466 1218.3 468 1217.5 470 1216.7 472 1216 474 1215.2 476 1214.4 478 1213.5 480 1212.7 482 1211.8 484 1211 486 1210.1 488 1209.2 490 1208.2 492 1207.3 494 1206.3 496 1205.4 498 1204.4 500 1203.4 502 1202.4 504 1201.3 506 1200.3 508 1199.3 510 1198.2 512 1197.1 514 1196 516 1194.9 518 1193.8 520 1192.7 522 1191.6 524 1190.4 526 1189.3 528 1188.1 530 1186.9 532 1185.8 534 1184.6 536 1183.4 538 1182.2 540 1181 542 1179.8 544 1178.6 546 1177.3 548 1176.1 550 1174.9 552 1173.6 554 1172.4 556 1171.1 558 1169.9 560 1168.6 562 1167.4 564 1166.1 566 1164.8 568 1163.6 570 1162.3 572 1161 574 1159.8 576 1158.5 578 1157.2 580 1155.9 582 1154.7 584 1153.4 586 1152.1 588 1150.9 590 1149.6 592 1148.4 594 1147.1 596 1145.8 598 1144.6 600 1143.3 602 1142.1 604 1140.9 606 1139.6 608 1138.4 610 1137.2 612 1136 614 1134.8 616 1133.5 618 1132.4 620 1131.2 622 1130 624 1128.8 626 1127.6 628 1126.5 630 1125.3 632 1124.2 634 1123.1 636 1122 638 1120.9 640 1119.8 642 1118.7 644 1117.6 646 1116.6 648 1115.5 650 1114.5 652 1113.5 654 1112.4 656 1111.5 658 1110.5 660 1109.5 662 1108.6 664 1107.6 666 1106.7 668 1105.8 670 1104.9 672 1104.1 674 1103.2 676 1102.4 678 1101.6 680 1100.8 682 1100 684 1099.2 686 1098.5 688 1097.8 690 1097.1 692 1096.4 694 1095.7 696 1095.1 698 1094.5 700 1093.9 702 1093.3 704 1092.8 706 1092.2 708 1091.7 710 1091.3 712 1090.8 714 1090.4 716 1090 718 1089.6 720 1089.2 722 1088.9 724 1088.6 726 1088.3 728 1088 730 1087.7 732 1087.5 734 1087.3 736 1087.1 738 1087 740 1086.8 742 1086.7 744 1086.6 746 1086.5 748 1086.4 750 1086.4 752 1086.4 754 1086.4 756 1086.4 758 1086.4 760 1086.5 762 1086.5 764 1086.6 766 1086.7 768 1086.9 770 1087 772 1087.2 774 1087.3 776 1087.5 778 1087.7 780 1088 782 1088.2 784 1088.4 786 1088.7 788 1089 790 1089.2 792 1089.5 794 1089.8 796 1090.1 798 1090.4 800 1090.8 802 1091.1 804 1091.4 806 1091.8 808 1092.1 810 1092.5 812 1092.8 814 1093.2 816 1093.5 818 1093.9 820 1094.2 822 1094.6 824 1094.9 826 1095.3 828 1095.6 830 1096 832 1096.4 834 1096.7 836 1097.1 838 1097.4 840 1097.8 842 1098.1 844 1098.5 846 1098.9 848 1099.2 850 1099.6 852 1099.9 854 1100.3 856 1100.7 858 1101 860 1101.4 862 1101.8 864 1102.1 866 1102.5 868 1102.9 870 1103.3 872 1103.6 874 1104 876 1104.4 878 1104.8 880 1105.2 882 1105.6 884 1105.9 886 1106.3 888 1106.7 890 1107.1 892 1107.5 894 1107.9 896 1108.3 898 1108.7 900 1109.1 902 1109.6 904 1110 906 1110.4 908 1110.8 910 1111.2 912 1111.7 914 1112.1 916 1112.5 918 1113 920 1113.4 922 1113.9 924 1114.3 926 1114.8 928 1115.2 930 1115.7 932 1116.1 934 1116.6 936 1117.1 938 1117.6 940 1118 942 1118.5 944 1119 946 1119.5 948 1120 950 1120.5 952 1121 954 1121.5 956 1122 958 1122.5 960 1123.1 962 1123.6 964 1124.1 966 1124.6 968 1125.2 970 1125.7 972 1126.2 974 1126.8 976 1127.3 978 1127.8 980 1128.4 982 1128.9 984 1129.5 986 1130 988 1130.6 990 1131.2 992 1131.7 994 1132.3 996 1132.9 998 1133.4 1000 1134 1002 1134.6 1004 1135.1 1006 1135.7 1008 1136.3 1010 1136.9 1012 1137.4 1014 1138 1016 1138.6 1018 1139.2 1020 1139.8 1022 1140.4 1024 1141 1026 1141.6 1028 1142.1 1030 1142.7 1032 1143.3 1034 1143.9 1036 1144.5 1038 1145.1 1040 1145.7 1042 1146.3 1044 1146.9 1046 1147.5 1048 1148.1 1050 1148.7 1052 1149.3 1054 1149.9 1056 1150.5 1058 1151.1 1060 1151.7 1062 1152.3 1064 1152.9 1066 1153.5 1068 1154.1 1070 1154.7 1072 1155.3 1074 1155.9 1076 1156.5 1078 1157.1 1080 1157.7 1082 1158.3 1084 1158.9 1086 1159.5 1088 1160.1 1090 1160.7 1092 1161.3 1094 1161.9 1096 1162.5 1098 1163.1 1100 1163.6 1102 1164.2 1104 1164.8 1106 1165.4 1108 1166 1110 1166.6 1112 1167.2 1114 1167.7 1116 1168.3 1118 1168.9 1120 1169.5 1122 1170 1124 1170.6 1126 1171.2 1128 1171.7 1130 1172.3 1132 1172.9 1134 1173.4 1136 1174 1138 1174.6 1140 1175.1 1142 1175.7 1144 1176.2 1146 1176.7 1148 1177.3 1150 1177.8 1152 1178.4 1154 1178.9 1156 1179.4 1158 1180 1160 1180.5 1162 1181 1164 1181.5 1166 1182 1168 1182.6 1170 1183.1 1172 1183.6 1174 1184.1 1176 1184.6 1178 1185.1 1180 1185.6 1182 1186.1 1184 1186.6 1186 1187.1 1188 1187.5 1190 1188 1192 1188.5 1194 1189 1196 1189.5 1198 1189.9 1200 1190.4 1202 1190.9 1204 1191.3 1206 1191.8 1208 1192.2 1210 1192.7 1212 1193.1 1214 1193.6 1216 1194 1218 1194.5 1220 1194.9 1222 1195.4 1224 1195.8 1226 1196.2 1228 1196.7 1230 1197.1 1232 1197.5 1234 1197.9 1236 1198.4 1238 1198.8 1240 1199.2 1242 1199.6 1244 1200 1246 1200.4 1248 1200.8 1250 1201.2 1252 1201.6 1254 1202 1256 1202.4 1258 1202.8 1260 1203.2 1262 1203.6 1264 1204 1266 1204.3 1268 1204.7 1270 1205.1 1272 1205.5 1274 1205.8 1276 1206.2 1278 1206.6 1280 1206.9 1282 1207.3 1284 1207.6 1286 1208 1288 1208.3 1290 1208.7 1292 1209 1294 1209.4 1296 1209.7 1298 1210.1 1300 1210.4 1302 1210.7 1304 1211.1 1306 1211.4 1308 1211.7 1310 1212.1 1312 1212.4 1314 1212.7 1316 1213 1318 1213.3 1320 1213.7 1322 1214 1324 1214.3 1326 1214.6 1328 1214.9 1330 1215.2 1332 1215.5 1334 1215.8 1336 1216.1 1338 1216.4 1340 1216.7 1342 1217 1344 1217.2 1346 1217.5 1348 1217.8 1350 1218.1 1352 1218.4 1354 1218.6 1356 1218.9 1358 1219.2 1360 1219.4 1362 1219.7 1364 1220 1366 1220.2 1368 1220.5 1370 1220.7 1372 1221 1374 1221.3 1376 1221.5 1378 1221.7 1380 1222 1382 1222.2 1384 1222.5 1386 1222.7 1388 1223 1390 1223.2 1392 1223.4 1394 1223.7 1396 1223.9 1398 1224.1 1400 1224.3 1402 1224.6 1404 1224.8 1406 1225 1408 1225.2 1410 1225.4 1412 1225.6 1414 1225.9 1416 1226.1 1418 1226.3 1420 1226.5 1422 1226.7 1424 1226.9 1426 1227.1 1428 1227.3 1430 1227.5 1432 1227.7 1434 1227.9 1436 1228 1438 1228.2 1440 1228.4 1442 1228.6 1444 1228.8 1446 1229 1448 1229.1 1450 1229.3 1452 1229.5 1454 1229.7 1456 1229.8 1458 1230 1460 1230.2 1462 1230.3 1464 1230.5 1466 1230.7 1468 1230.8 1470 1231 1472 1231.2 1474 1231.3 1476 1231.5 1478 1231.6 1480 1231.8 1482 1231.9 1484 1232.1 1486 1232.2 1488 1232.4 1490 1232.5 1492 1232.7 1494 1232.8 1496 1232.9 1498 1233.1 1500 1233.2 1502 1233.3 1504 1233.5 1506 1233.6 1508 1233.7 1510 1233.9 1512 1234 1514 1234.1 1516 1234.3 1518 1234.4 1520 1234.5 1522 1234.6 1524 1234.7 1526 1234.9 1528 1235 1530 1235.1 1532 1235.2 1534 1235.3 1536 1235.4 1538 1235.5 1540 1235.7 1542 1235.8 1544 1235.9 1546 1236 1548 1236.1 1550 1236.2 1552 1236.3 1554 1236.4 1556 1236.5 1558 1236.6 1560 1236.7 1562 1236.8 1564 1236.9 1566 1237 1568 1237.1 1570 1237.2 1572 1237.3 1574 1237.4 1576 1237.4 1578 1237.5 1580 1237.6 1582 1237.7 1584 1237.8 1586 1237.9 1588 1238 1590 1238 1592 1238.1 1594 1238.2 1596 1238.3 1598 1238.4 1600 1238.5 1602 1238.5 1604 1238.6 1606 1238.7 1608 1238.8 1610 1238.8 1612 1238.9 1614 1239 1616 1239.1 1618 1239.1 1620 1239.2 1622 1239.3 1624 1239.3 1626 1239.4 1628 1239.5 1630 1239.5 1632 1239.6 1634 1239.7 1636 1239.7 1638 1239.8 1640 1239.9 1642 1239.9 1644 1240 1646 1240 1648 1240.1 1650 1240.2 1652 1240.2 1654 1240.3 1656 1240.3 1658 1240.4 1660 1240.4 1662 1240.5 1664 1240.6 1666 1240.6 1668 1240.7 1670 1240.7 1672 1240.8 1674 1240.8 1676 1240.9 1678 1240.9 1680 1241 1682 1241 1684 1241.1 1686 1241.1 1688 1241.2 1690 1241.2 1692 1241.3 1694 1241.3 1696 1241.3 1698 1241.4 1700 1241.4 1702 1241.5 1704 1241.5 1706 1241.6 1708 1241.6 1710 1241.6 1712 1241.7 1714 1241.7 1716 1241.8 1718 1241.8 1720 1241.8 1722 1241.9 1724 1241.9 1726 1242 1728 1242 1730 1242 1732 1242.1 1734 1242.1 1736 1242.1 1738 1242.2 1740 1242.2 1742 1242.2 1744 1242.3 1746 1242.3 1748 1242.3 1750 1242.4 1752 1242.4 1754 1242.4 1756 1242.5 1758 1242.5 1760 1242.5 1762 1242.6 1764 1242.6 1766 1242.6 1768 1242.7 1770 1242.7 1772 1242.7 1774 1242.8 1776 1242.8 1778 1242.8 1780 1242.8 1782 1242.9 1784 1242.9 1786 1242.9 1788 1242.9 1790 1243 1792 1243 1794 1243 1796 1243.1 1798 1243.1 1800 1243.1 1802 1243.1 1804 1243.2 1806 1243.2 1808 1243.2 1810 1243.2 1812 1243.3 1814 1243.3 1816 1243.3 1818 1243.3 1820 1243.4 1822 1243.4 1824 1243.4 1826 1243.4 1828 1243.5 1830 1243.5 1832 1243.5 1834 1243.5 1836 1243.6 1838 1243.6 1840 1243.6 1842 1243.6 1844 1243.7 1846 1243.7 1848 1243.7 1850 1243.7 1852 1243.8 1854 1243.8 1856 1243.8 1858 1243.8 1860 1243.8 1862 1243.9 1864 1243.9 1866 1243.9 1868 1243.9 1870 1244 1872 1244 1874 1244 1876 1244 1878 1244.1 1880 1244.1 1882 1244.1 1884 1244.1 1886 1244.2 1888 1244.2 1890 1244.2 1892 1244.2 1894 1244.3 1896 1244.3 1898 1244.3 1900 1244.3 1902 1244.4 1904 1244.4 1906 1244.4 1908 1244.4 1910 1244.5 1912 1244.5 1914 1244.5 1916 1244.5 1918 1244.6 1920 1244.6 1922 1244.6 1924 1244.7 1926 1244.7 1928 1244.7 1930 1244.7 1932 1244.8 1934 1244.8 1936 1244.8 1938 1244.9 1940 1244.9 1942 1244.9 1944 1245 1946 1245 1948 1245 1950 1245 1952 1245.1 1954 1245.1 1956 1245.1 1958 1245.2 1960 1245.2 1962 1245.2 1964 1245.3 1966 1245.3 1968 1245.3 1970 1245.4 1972 1245.4 1974 1245.5 1976 1245.5 1978 1245.5 1980 1245.6 1982 1245.6 1984 1245.6 1986 1245.7 1988 1245.7 1990 1245.8 1992 1245.8 1994 1245.8 1996 1245.9 1998 1245.9 2000 1246 2002 1246 2004 1246.1 2006 1246.1 2008 1246.1 2010 1246.2 2012 1246.2 2014 1246.3 2016 1246.3 2018 1246.4 2020 1246.4 2022 1246.5 2024 1246.5 2026 1246.6 2028 1246.6 2030 1246.7 2032 1246.7 2034 1246.8 2036 1246.8 2038 1246.9 2040 1246.9 2042 1247 2044 1247 2046 1247.1 2047 1247.1" fill="none" stroke="#00e000" stroke-width="6" stroke-linejoin="round" stroke-linecap="round"/>
</g>
<rect x="1577.1" y="808.4" width="469.3" height="249" fill="none" stroke="#111" stroke-width="1.4"/>
<path d="M1578.1 848.8H1706" stroke="#0370e3" stroke-width="5.5" stroke-linecap="round"/>
<text font-size="58.3"><tspan x="1722.6" y="867.3">C</tspan><tspan x="1762.4" y="867.3">H</tspan><tspan x="1803.9" y="882.3" font-size="37.5">3</tspan><tspan x="1824.9" y="867.3">N</tspan><tspan x="1864.7" y="867.3">H</tspan><tspan x="1905.6" y="882.3" font-size="37.5">3</tspan><tspan x="1925.8" y="867.3">P</tspan><tspan x="1963.6" y="867.3">b</tspan><tspan x="1993.2" y="867.3">I</tspan><tspan x="2011.4" y="882.3" font-size="37.5">3</tspan></text>
<path d="M1578.1 931.2H1706" stroke="#ff0000" stroke-width="5.5" stroke-linecap="round"/>
<text font-size="58.3"><tspan x="1722.6" y="949.9">C</tspan><tspan x="1762.4" y="949.9">H</tspan><tspan x="1803.9" y="964.9" font-size="37.5">3</tspan><tspan x="1824.9" y="949.9">N</tspan><tspan x="1864.7" y="949.9">H</tspan><tspan x="1905.6" y="964.9" font-size="37.5">3</tspan><tspan x="1925.9" y="949.9">C</tspan><tspan x="1967.1" y="949.9">d</tspan><tspan x="1996.7" y="949.9">I</tspan><tspan x="2013.5" y="964.9" font-size="37.5">3</tspan></text>
<path d="M1578.1 1013.8H1706" stroke="#00e000" stroke-width="5.5" stroke-linecap="round"/>
<text font-size="58.3"><tspan x="1722.6" y="1032.5">C</tspan><tspan x="1762.4" y="1032.5">H</tspan><tspan x="1803.9" y="1047.5" font-size="37.5">3</tspan><tspan x="1824.9" y="1032.5">N</tspan><tspan x="1864.7" y="1032.5">H</tspan><tspan x="1905.6" y="1047.5" font-size="37.5">3</tspan><tspan x="1925.7" y="1032.5">Z</tspan><tspan x="1961.8" y="1032.5">n</tspan><tspan x="1990.7" y="1032.5">I</tspan><tspan x="2007.5" y="1047.5" font-size="37.5">3</tspan></text>
<path d="M257.4 1424.7V1949.2H2192.6" fill="none" stroke="#000" stroke-width="2.7" stroke-linecap="butt"/>
<path d="M241.9 1911.8H257.4M241.9 1837H257.4M241.9 1762.3H257.4M241.9 1687.6H257.4M241.9 1612.9H257.4M241.9 1538.2H257.4M241.9 1463.4H257.4M249.9 1949.1H257.4M249.9 1874.4H257.4M249.9 1799.7H257.4M249.9 1725H257.4M249.9 1650.2H257.4M249.9 1575.5H257.4M249.9 1500.8H257.4M249.9 1426.1H257.4M257.4 1949.2V1964.7M687 1949.2V1964.7M1116.6 1949.2V1964.7M1546.3 1949.2V1964.7M1975.9 1949.2V1964.7M472.2 1949.2V1956.7M901.8 1949.2V1956.7M1331.5 1949.2V1956.7M1761.1 1949.2V1956.7M2190.7 1949.2V1956.7" fill="none" stroke="#000" stroke-width="2.6"/>
<g transform="translate(230.40 1925.56) scale(1 1.045)"><text x="0" y="0" font-size="50.9" text-anchor="end">-0,003</text></g>
<g transform="translate(230.40 1850.84) scale(1 1.045)"><text x="0" y="0" font-size="50.9" text-anchor="end">-0,002</text></g>
<g transform="translate(230.40 1776.12) scale(1 1.045)"><text x="0" y="0" font-size="50.9" text-anchor="end">-0,001</text><path d="M-25.58 -4.40H-15.51V1.2H-25.58ZM-11.01 -4.40H-1.34V1.2H-11.01Z" fill="#fff"/></g>
<g transform="translate(230.40 1701.40) scale(1 1.045)"><text x="0" y="0" font-size="50.9" text-anchor="end">0,000</text></g>
<g transform="translate(230.40 1626.68) scale(1 1.045)"><text x="0" y="0" font-size="50.9" text-anchor="end">0,001</text><path d="M-25.58 -4.40H-15.51V1.2H-25.58ZM-11.01 -4.40H-1.34V1.2H-11.01Z" fill="#fff"/></g>
<g transform="translate(230.40 1551.96) scale(1 1.045)"><text x="0" y="0" font-size="50.9" text-anchor="end">0,002</text></g>
<g transform="translate(230.40 1477.24) scale(1 1.045)"><text x="0" y="0" font-size="50.9" text-anchor="end">0,003</text></g>
<g transform="translate(257.40 2015.90) scale(1 1.045)"><text x="0" y="0" font-size="50.9" text-anchor="middle">0</text></g>
<g transform="translate(687.02 2015.90) scale(1 1.045)"><text x="0" y="0" font-size="50.9" text-anchor="middle">50</text></g>
<g transform="translate(1116.65 2015.90) scale(1 1.045)"><text x="0" y="0" font-size="50.9" text-anchor="middle">100</text><path d="M-39.73 -4.40H-29.66V1.2H-39.73ZM-25.16 -4.40H-15.49V1.2H-25.16Z" fill="#fff"/></g>
<g transform="translate(1546.28 2015.90) scale(1 1.045)"><text x="0" y="0" font-size="50.9" text-anchor="middle">150</text><path d="M-39.73 -4.40H-29.66V1.2H-39.73ZM-25.16 -4.40H-15.49V1.2H-25.16Z" fill="#fff"/></g>
<g transform="translate(1975.90 2015.90) scale(1 1.045)"><text x="0" y="0" font-size="50.9" text-anchor="middle">200</text></g>
<text x="1142" y="2067.8" font-size="60" textLength="163" lengthAdjust="spacing">z [nm]</text>
<text transform="translate(68.1 1991.6) rotate(-90)" font-size="60" textLength="608.6" lengthAdjust="spacing">Minkowski Connectivity</text>
<clipPath id="c3"><rect x="257.4" y="1400" width="1934.6" height="549.5999999999999"/></clipPath><g clip-path="url(#c3)">
<path d="M258.5 1688.1 260.5 1688.1 262.5 1688 264.5 1688 266.5 1688 268.5 1687.9 270.5 1687.9 272.5 1687.9 274.5 1687.9 276.5 1688 278.5 1688 280.5 1688 282.5 1688.1 284.5 1688.2 286.5 1688.2 288.5 1688.3 290.5 1688.5 292.5 1688.6 294.5 1688.7 296.5 1688.9 298.5 1689.1 300.5 1689.3 302.5 1689.5 304.5 1689.7 306.5 1690 308.5 1690.3 310.5 1690.6 312.5 1690.9 314.5 1691.2 316.5 1691.6 318.5 1692 320.5 1692.4 322.5 1692.9 324.5 1693.3 326.5 1693.8 328.5 1694.3 330.5 1694.9 332.5 1695.5 334.5 1696.1 336.5 1696.7 338.5 1697.4 340.5 1698.1 342.5 1698.8 344.5 1699.5 346.5 1700.3 348.5 1701.1 350.5 1702 352.5 1702.9 354.5 1703.8 356.5 1704.8 358.5 1705.8 360.5 1706.8 362.5 1707.8 364.5 1709 366.5 1710.1 368.5 1711.3 370.5 1712.5 372.5 1713.8 374.5 1715.1 376.5 1716.4 378.5 1717.8 380.5 1719.2 382.5 1720.7 384.5 1722.2 386.5 1723.8 388.5 1725.4 390.5 1727 392.5 1728.7 394.5 1730.5 396.5 1732.3 398.5 1734.1 400.5 1736 402.5 1737.9 404.5 1739.9 406.5 1741.9 408.5 1744 410.5 1746.1 412.5 1748.3 414.5 1750.5 416.5 1752.7 418.5 1755 420.5 1757.4 422.5 1759.7 424.5 1762.2 426.5 1764.6 428.5 1767.1 430.5 1769.6 432.5 1772.2 434.5 1774.8 436.5 1777.4 438.5 1780.1 440.5 1782.8 442.5 1785.5 444.5 1788.3 446.5 1791.1 448.5 1793.9 450.5 1796.8 452.5 1799.7 454.5 1802.6 456.5 1805.5 458.5 1808.5 460.5 1811.5 462.5 1814.5 464.5 1817.5 466.5 1820.6 468.5 1823.7 470.5 1826.8 472.5 1829.9 474.5 1833.1 476.5 1836.2 478.5 1839.3 480.5 1842.3 482.5 1845.4 484.5 1848.3 486.5 1851.2 488.5 1854.1 490.5 1856.8 492.5 1859.5 494.5 1862 496.5 1864.5 498.5 1866.8 500.5 1868.9 502.5 1871 504.5 1872.8 506.5 1874.5 508.5 1876.1 510.5 1877.4 512.5 1878.6 514.5 1879.6 516.5 1880.5 518.5 1881.1 520.5 1881.6 522.5 1881.9 524.5 1882 526.5 1882 528.5 1881.7 530.5 1881.3 532.5 1880.6 534.5 1879.8 536.5 1878.8 538.5 1877.6 540.5 1876.2 542.5 1874.7 544.5 1872.9 546.5 1870.9 548.5 1868.8 550.5 1866.5 552.5 1864 554.5 1861.3 556.5 1858.4 558.5 1855.4 560.5 1852.2 562.5 1848.8 564.5 1845.2 566.5 1841.5 568.5 1837.6 570.5 1833.6 572.5 1829.4 574.5 1825 576.5 1820.5 578.5 1815.8 580.5 1811 582.5 1806 584.5 1800.9 586.5 1795.7 588.5 1790.3 590.5 1784.8 592.5 1779.2 594.5 1773.4 596.5 1767.6 598.5 1761.7 600.5 1755.6 602.5 1749.5 604.5 1743.3 606.5 1737 608.5 1730.6 610.5 1724.2 612.5 1717.7 614.5 1711.1 616.5 1704.5 618.5 1697.9 620.5 1691.2 622.5 1684.6 624.5 1678 626.5 1671.4 628.5 1664.8 630.5 1658.2 632.5 1651.7 634.5 1645.3 636.5 1639 638.5 1632.7 640.5 1626.6 642.5 1620.5 644.5 1614.6 646.5 1608.8 648.5 1603.2 650.5 1597.6 652.5 1592.3 654.5 1587 656.5 1581.9 658.5 1576.9 660.5 1572 662.5 1567.3 664.5 1562.7 666.5 1558.2 668.5 1553.9 670.5 1549.7 672.5 1545.6 674.5 1541.7 676.5 1537.9 678.5 1534.2 680.5 1530.6 682.5 1527.2 684.5 1523.8 686.5 1520.7 688.5 1517.6 690.5 1514.7 692.5 1511.8 694.5 1509.2 696.5 1506.6 698.5 1504.1 700.5 1501.8 702.5 1499.6 704.5 1497.5 706.5 1495.6 708.5 1493.8 710.5 1492.1 712.5 1490.5 714.5 1489.1 716.5 1487.8 718.5 1486.7 720.5 1485.7 722.5 1484.8 724.5 1484.1 726.5 1483.6 728.5 1483.1 730.5 1482.8 732.5 1482.7 734.5 1482.7 736.5 1482.8 738.5 1483.1 740.5 1483.5 742.5 1484 744.5 1484.7 746.5 1485.5 748.5 1486.4 750.5 1487.4 752.5 1488.5 754.5 1489.7 756.5 1491 758.5 1492.4 760.5 1493.9 762.5 1495.5 764.5 1497.1 766.5 1498.8 768.5 1500.5 770.5 1502.3 772.5 1504.1 774.5 1506 776.5 1507.9 778.5 1509.9 780.5 1511.8 782.5 1513.8 784.5 1515.8 786.5 1517.7 788.5 1519.7 790.5 1521.7 792.5 1523.7 794.5 1525.7 796.5 1527.7 798.5 1529.7 800.5 1531.7 802.5 1533.7 804.5 1535.7 806.5 1537.7 808.5 1539.8 810.5 1541.8 812.5 1543.8 814.5 1545.9 816.5 1548 818.5 1550.1 820.5 1552.1 822.5 1554.3 824.5 1556.4 826.5 1558.5 828.5 1560.6 830.5 1562.7 832.5 1564.9 834.5 1567 836.5 1569.2 838.5 1571.3 840.5 1573.4 842.5 1575.6 844.5 1577.7 846.5 1579.8 848.5 1581.9 850.5 1584 852.5 1586.1 854.5 1588.2 856.5 1590.3 858.5 1592.4 860.5 1594.4 862.5 1596.4 864.5 1598.4 866.5 1600.4 868.5 1602.4 870.5 1604.4 872.5 1606.3 874.5 1608.2 876.5 1610.1 878.5 1611.9 880.5 1613.7 882.5 1615.5 884.5 1617.3 886.5 1619 888.5 1620.7 890.5 1622.4 892.5 1624 894.5 1625.6 896.5 1627.1 898.5 1628.7 900.5 1630.1 902.5 1631.6 904.5 1633 906.5 1634.4 908.5 1635.8 910.5 1637.1 912.5 1638.4 914.5 1639.7 916.5 1640.9 918.5 1642.2 920.5 1643.3 922.5 1644.5 924.5 1645.6 926.5 1646.8 928.5 1647.8 930.5 1648.9 932.5 1649.9 934.5 1650.9 936.5 1651.9 938.5 1652.9 940.5 1653.8 942.5 1654.8 944.5 1655.7 946.5 1656.5 948.5 1657.4 950.5 1658.2 952.5 1659 954.5 1659.8 956.5 1660.6 958.5 1661.4 960.5 1662.1 962.5 1662.9 964.5 1663.6 966.5 1664.3 968.5 1664.9 970.5 1665.6 972.5 1666.3 974.5 1666.9 976.5 1667.5 978.5 1668.1 980.5 1668.7 982.5 1669.3 984.5 1669.8 986.5 1670.4 988.5 1670.9 990.5 1671.4 992.5 1671.9 994.5 1672.4 996.5 1672.9 998.5 1673.3 1000.5 1673.8 1002.5 1674.2 1004.5 1674.6 1006.5 1675 1008.5 1675.4 1010.5 1675.8 1012.5 1676.2 1014.5 1676.6 1016.5 1676.9 1018.5 1677.2 1020.5 1677.6 1022.5 1677.9 1024.5 1678.2 1026.5 1678.5 1028.5 1678.8 1030.5 1679.1 1032.5 1679.4 1034.5 1679.6 1036.5 1679.9 1038.5 1680.1 1040.5 1680.4 1042.5 1680.6 1044.5 1680.8 1046.5 1681 1048.5 1681.2 1050.5 1681.4 1052.5 1681.6 1054.5 1681.8 1056.5 1682 1058.5 1682.2 1060.5 1682.3 1062.5 1682.5 1064.5 1682.6 1066.5 1682.8 1068.5 1682.9 1070.5 1683.1 1072.5 1683.2 1074.5 1683.3 1076.5 1683.5 1078.5 1683.6 1080.5 1683.7 1082.5 1683.8 1084.5 1683.9 1086.5 1684 1088.5 1684.1 1090.5 1684.2 1092.5 1684.3 1094.5 1684.4 1096.5 1684.5 1098.5 1684.6 1100.5 1684.7 1102.5 1684.8 1104.5 1684.9 1106.5 1685 1108.5 1685.1 1110.5 1685.2 1112.5 1685.2 1114.5 1685.3 1116.5 1685.4 1118.5 1685.5 1120.5 1685.6 1122.5 1685.6 1124.5 1685.7 1126.5 1685.8 1128.5 1685.9 1130.5 1685.9 1132.5 1686 1134.5 1686.1 1136.5 1686.1 1138.5 1686.2 1140.5 1686.2 1142.5 1686.3 1144.5 1686.4 1146.5 1686.4 1148.5 1686.5 1150.5 1686.5 1152.5 1686.6 1154.5 1686.6 1156.5 1686.7 1158.5 1686.7 1160.5 1686.8 1162.5 1686.8 1164.5 1686.9 1166.5 1686.9 1168.5 1687 1170.5 1687 1172.5 1687.1 1174.5 1687.1 1176.5 1687.1 1178.5 1687.2 1180.5 1687.2 1182.5 1687.3 1184.5 1687.3 1186.5 1687.3 1188.5 1687.4 1190.5 1687.4 1192.5 1687.4 1194.5 1687.5 1196.5 1687.5 1198.5 1687.5 1200.5 1687.5 1202.5 1687.6 1204.5 1687.6 1206.5 1687.6 1208.5 1687.6 1210.5 1687.7 1212.5 1687.7 1214.5 1687.7 1216.5 1687.7 1218.5 1687.7 1220.5 1687.8 1222.5 1687.8 1224.5 1687.8 1226.5 1687.8 1228.5 1687.8 1230.5 1687.8 1232.5 1687.9 1234.5 1687.9 1236.5 1687.9 1238.5 1687.9 1240.5 1687.9 1242.5 1687.9 1244.5 1687.9 1246.5 1687.9 1248.5 1687.9 1250.5 1687.9 1252.5 1688 1254.5 1688 1256.5 1688 1258.5 1688 1260.5 1688 1262.5 1688 1264.5 1688 1266.5 1688 1268.5 1688 1270.5 1688 1272.5 1688 1274.5 1688 1276.5 1688 1278.5 1688 1280.5 1688 1282.5 1688 1284.5 1688 1286.5 1688 1288.5 1688 1290.5 1688 1292.5 1688 1294.5 1688 1296.5 1688 1298.5 1687.9 1300.5 1687.9 1302.5 1687.9 1304.5 1687.9 1306.5 1687.9 1308.5 1687.9 1310.5 1687.9 1312.5 1687.9 1314.5 1687.9 1316.5 1687.9 1318.5 1687.9 1320.5 1687.9 1322.5 1687.9 1324.5 1687.9 1326.5 1687.8 1328.5 1687.8 1330.5 1687.8 1332.5 1687.8 1334.5 1687.8 1336.5 1687.8 1338.5 1687.8 1340.5 1687.8 1342.5 1687.8 1344.5 1687.8 1346.5 1687.7 1348.5 1687.7 1350.5 1687.7 1352.5 1687.7 1354.5 1687.7 1356.5 1687.7 1358.5 1687.7 1360.5 1687.7 1362.5 1687.7 1364.5 1687.7 1366.5 1687.6 1368.5 1687.6 1370.5 1687.6 1372.5 1687.6 1374.5 1687.6 1376.1 1687.6" fill="none" stroke="#0000ff" stroke-width="6" stroke-linejoin="round" stroke-linecap="round"/>
<path d="M258.5 1686.9 260.5 1687.6 262.5 1688.2 264.5 1688.7 266.5 1689.1 268.5 1689.4 270.5 1689.7 272.5 1690 274.5 1690.3 276.5 1690.5 278.5 1690.8 280.5 1691.1 282.5 1691.5 284.5 1691.9 286.5 1692.3 288.5 1692.9 290.5 1693.5 292.5 1694.3 294.5 1695.2 296.5 1696.3 298.5 1697.5 300.5 1698.9 302.5 1700.4 304.5 1702.2 306.5 1704.2 308.5 1706.4 310.5 1708.8 312.5 1711.5 314.5 1714.3 316.5 1717.4 318.5 1720.7 320.5 1724.2 322.5 1727.8 324.5 1731.7 326.5 1735.7 328.5 1739.9 330.5 1744.3 332.5 1748.9 334.5 1753.6 336.5 1758.4 338.5 1763.4 340.5 1768.6 342.5 1773.8 344.5 1779.3 346.5 1784.8 348.5 1790.5 350.5 1796.2 352.5 1802.1 354.5 1808.1 356.5 1814.2 358.5 1820.3 360.5 1826.4 362.5 1832.6 364.5 1838.7 366.5 1844.9 368.5 1850.9 370.5 1856.9 372.5 1862.7 374.5 1868.5 376.5 1874.1 378.5 1879.5 380.5 1884.7 382.5 1889.6 384.5 1894.4 386.5 1898.8 388.5 1903 390.5 1906.9 392.5 1910.4 394.5 1913.5 396.5 1916.3 398.5 1918.6 400.5 1920.6 402.5 1922.1 404.5 1923.1 406.5 1923.8 408.5 1924.1 410.5 1923.9 412.5 1923.4 414.5 1922.5 416.5 1921.2 418.5 1919.5 420.5 1917.5 422.5 1915.1 424.5 1912.3 426.5 1909.2 428.5 1905.8 430.5 1902.1 432.5 1898 434.5 1893.6 436.5 1888.9 438.5 1883.9 440.5 1878.6 442.5 1873 444.5 1867.1 446.5 1861 448.5 1854.5 450.5 1847.9 452.5 1840.9 454.5 1833.7 456.5 1826.2 458.5 1818.4 460.5 1810.5 462.5 1802.4 464.5 1794.2 466.5 1786 468.5 1777.7 470.5 1769.5 472.5 1761.4 474.5 1753.3 476.5 1745.2 478.5 1737.1 480.5 1729.1 482.5 1721 484.5 1713 486.5 1704.9 488.5 1696.8 490.5 1688.7 492.5 1680.5 494.5 1672.3 496.5 1664 498.5 1655.8 500.5 1647.6 502.5 1639.5 504.5 1631.4 506.5 1623.5 508.5 1615.8 510.5 1608.2 512.5 1600.9 514.5 1593.8 516.5 1587.1 518.5 1580.6 520.5 1574.4 522.5 1568.5 524.5 1562.9 526.5 1557.5 528.5 1552.4 530.5 1547.5 532.5 1542.9 534.5 1538.4 536.5 1534.1 538.5 1530 540.5 1526.1 542.5 1522.3 544.5 1518.7 546.5 1515.2 548.5 1511.9 550.5 1508.7 552.5 1505.7 554.5 1502.9 556.5 1500.3 558.5 1497.8 560.5 1495.4 562.5 1493.3 564.5 1491.3 566.5 1489.4 568.5 1487.8 570.5 1486.3 572.5 1484.9 574.5 1483.8 576.5 1482.8 578.5 1482 580.5 1481.3 582.5 1480.8 584.5 1480.5 586.5 1480.4 588.5 1480.4 590.5 1480.6 592.5 1481 594.5 1481.5 596.5 1482.2 598.5 1482.9 600.5 1483.9 602.5 1484.9 604.5 1486.1 606.5 1487.4 608.5 1488.8 610.5 1490.3 612.5 1491.9 614.5 1493.6 616.5 1495.3 618.5 1497.2 620.5 1499.1 622.5 1501.1 624.5 1503.2 626.5 1505.3 628.5 1507.4 630.5 1509.6 632.5 1511.9 634.5 1514.2 636.5 1516.5 638.5 1518.8 640.5 1521.2 642.5 1523.6 644.5 1526 646.5 1528.5 648.5 1531 650.5 1533.4 652.5 1535.9 654.5 1538.5 656.5 1541 658.5 1543.5 660.5 1546 662.5 1548.6 664.5 1551.1 666.5 1553.6 668.5 1556.2 670.5 1558.7 672.5 1561.2 674.5 1563.7 676.5 1566.2 678.5 1568.6 680.5 1571.1 682.5 1573.5 684.5 1575.9 686.5 1578.3 688.5 1580.6 690.5 1583 692.5 1585.2 694.5 1587.5 696.5 1589.7 698.5 1591.9 700.5 1594 702.5 1596.1 704.5 1598.2 706.5 1600.2 708.5 1602.1 710.5 1604 712.5 1605.9 714.5 1607.7 716.5 1609.4 718.5 1611.1 720.5 1612.7 722.5 1614.2 724.5 1615.7 726.5 1617.1 728.5 1618.5 730.5 1619.8 732.5 1621.1 734.5 1622.3 736.5 1623.6 738.5 1624.8 740.5 1626.1 742.5 1627.4 744.5 1628.7 746.5 1630 748.5 1631.4 750.5 1632.9 752.5 1634.4 754.5 1636 756.5 1637.6 758.5 1639.2 760.5 1640.8 762.5 1642.4 764.5 1644 766.5 1645.6 768.5 1647.1 770.5 1648.6 772.5 1650 774.5 1651.4 776.5 1652.6 778.5 1653.9 780.5 1655 782.5 1656.2 784.5 1657.2 786.5 1658.2 788.5 1659.2 790.5 1660.1 792.5 1661 794.5 1661.8 796.5 1662.6 798.5 1663.4 800.5 1664.1 802.5 1664.8 804.5 1665.5 806.5 1666.1 808.5 1666.8 810.5 1667.4 812.5 1667.9 814.5 1668.5 816.5 1669 818.5 1669.6 820.5 1670.1 822.5 1670.6 824.5 1671.1 826.5 1671.6 828.5 1672 830.5 1672.5 832.5 1672.9 834.5 1673.4 836.5 1673.8 838.5 1674.2 840.5 1674.6 842.5 1675 844.5 1675.4 846.5 1675.7 848.5 1676.1 850.5 1676.5 852.5 1676.8 854.5 1677.1 856.5 1677.4 858.5 1677.7 860.5 1678.1 862.5 1678.3 864.5 1678.6 866.5 1678.9 868.5 1679.2 870.5 1679.4 872.5 1679.7 874.5 1679.9 876.5 1680.2 878.5 1680.4 880.5 1680.6 882.5 1680.8 884.5 1681 886.5 1681.2 888.5 1681.4 890.5 1681.6 892.5 1681.8 894.5 1681.9 896.5 1682.1 898.5 1682.3 900.5 1682.4 902.5 1682.6 904.5 1682.7 906.5 1682.9 908.5 1683 910.5 1683.2 912.5 1683.3 914.5 1683.4 916.5 1683.5 918.5 1683.6 920.5 1683.8 922.5 1683.9 924.5 1684 926.5 1684.1 928.5 1684.2 930.5 1684.3 932.5 1684.4 934.5 1684.5 936.5 1684.6 938.5 1684.7 940.5 1684.8 942.5 1684.8 944.5 1684.9 946.5 1685 948.5 1685.1 950.5 1685.2 952.5 1685.3 954.5 1685.3 956.5 1685.4 958.5 1685.5 960.5 1685.6 962.5 1685.7 964.5 1685.8 966.5 1685.8 968.5 1685.9 970.5 1686 972.5 1686.1 974.5 1686.2 976.5 1686.3 978.5 1686.4 980.5 1686.5 982.5 1686.6 984.5 1686.7 986.5 1686.8 988.5 1686.9 990.5 1687 992.5 1687.1 994.5 1687.2 996.5 1687.3 998.5 1687.5 1000.5 1687.6 1001.6 1687.7" fill="none" stroke="#ff4040" stroke-width="6" stroke-linejoin="round" stroke-linecap="round"/>
<path d="M260 1689.2 262 1689.2 264 1689.2 266 1689.1 268 1689.1 270 1689.1 272 1689.1 274 1689.1 276 1689.1 278 1689.1 280 1689.1 282 1689.1 284 1689.1 286 1689.1 288 1689.1 290 1689.1 292 1689.1 294 1689.1 296 1689.1 298 1689.1 300 1689.1 302 1689.1 304 1689.2 306 1689.2 308 1689.2 310 1689.3 312 1689.3 314 1689.3 316 1689.4 318 1689.4 320 1689.5 322 1689.5 324 1689.6 326 1689.6 328 1689.7 330 1689.7 332 1689.8 334 1689.9 336 1690 338 1690 340 1690.1 342 1690.2 344 1690.3 346 1690.4 348 1690.5 350 1690.6 352 1690.7 354 1690.8 356 1690.9 358 1691.1 360 1691.2 362 1691.3 364 1691.4 366 1691.6 368 1691.7 370 1691.9 372 1692 374 1692.2 376 1692.3 378 1692.5 380 1692.7 382 1692.9 384 1693 386 1693.2 388 1693.4 390 1693.6 392 1693.8 394 1694 396 1694.2 398 1694.4 400 1694.6 402 1694.8 404 1695.1 406 1695.3 408 1695.5 410 1695.7 412 1696 414 1696.2 416 1696.5 418 1696.7 420 1697 422 1697.2 424 1697.5 426 1697.7 428 1698 430 1698.2 432 1698.5 434 1698.8 436 1699 438 1699.3 440 1699.6 442 1699.9 444 1700.2 446 1700.4 448 1700.7 450 1701 452 1701.3 454 1701.6 456 1701.9 458 1702.2 460 1702.5 462 1702.8 464 1703.1 466 1703.4 468 1703.7 470 1704 472 1704.3 474 1704.6 476 1704.9 478 1705.3 480 1705.6 482 1705.9 484 1706.2 486 1706.5 488 1706.9 490 1707.2 492 1707.5 494 1707.8 496 1708.1 498 1708.4 500 1708.8 502 1709.1 504 1709.4 506 1709.7 508 1710 510 1710.3 512 1710.6 514 1710.9 516 1711.2 518 1711.5 520 1711.8 522 1712 524 1712.3 526 1712.6 528 1712.9 530 1713.1 532 1713.4 534 1713.6 536 1713.9 538 1714.1 540 1714.3 542 1714.5 544 1714.7 546 1714.9 548 1715.1 550 1715.3 552 1715.5 554 1715.7 556 1715.8 558 1716 560 1716.1 562 1716.2 564 1716.4 566 1716.5 568 1716.6 570 1716.6 572 1716.7 574 1716.8 576 1716.8 578 1716.9 580 1716.9 582 1716.9 584 1716.9 586 1716.9 588 1716.8 590 1716.8 592 1716.7 594 1716.6 596 1716.5 598 1716.4 600 1716.3 602 1716.2 604 1716 606 1715.9 608 1715.7 610 1715.5 612 1715.3 614 1715.1 616 1714.9 618 1714.7 620 1714.4 622 1714.2 624 1713.9 626 1713.7 628 1713.4 630 1713.1 632 1712.8 634 1712.5 636 1712.2 638 1711.9 640 1711.5 642 1711.2 644 1710.9 646 1710.5 648 1710.2 650 1709.8 652 1709.4 654 1709.1 656 1708.7 658 1708.3 660 1707.9 662 1707.5 664 1707.2 666 1706.8 668 1706.4 670 1706 672 1705.6 674 1705.2 676 1704.7 678 1704.3 680 1703.9 682 1703.5 684 1703.1 686 1702.7 688 1702.3 690 1701.9 692 1701.5 694 1701.1 696 1700.6 698 1700.2 700 1699.8 702 1699.4 704 1699 706 1698.6 708 1698.2 710 1697.8 712 1697.4 714 1697.1 716 1696.7 718 1696.3 720 1695.9 722 1695.5 724 1695.1 726 1694.8 728 1694.4 730 1694 732 1693.6 734 1693.3 736 1692.9 738 1692.5 740 1692.2 742 1691.8 744 1691.4 746 1691.1 748 1690.7 750 1690.4 752 1690 754 1689.7 756 1689.3 758 1689 760 1688.7 762 1688.3 764 1688 766 1687.6 768 1687.3 770 1687 772 1686.7 774 1686.3 776 1686 778 1685.7 780 1685.4 782 1685.1 784 1684.7 786 1684.4 788 1684.1 790 1683.8 792 1683.5 794 1683.2 796 1682.9 798 1682.6 800 1682.3 802 1682.1 804 1681.8 806 1681.5 808 1681.2 810 1680.9 812 1680.6 814 1680.4 816 1680.1 818 1679.8 820 1679.6 822 1679.3 824 1679.1 826 1678.8 828 1678.5 830 1678.3 832 1678 834 1677.8 836 1677.6 838 1677.3 840 1677.1 842 1676.8 844 1676.6 846 1676.4 848 1676.2 850 1675.9 852 1675.7 854 1675.5 856 1675.3 858 1675.1 860 1674.9 862 1674.7 864 1674.5 866 1674.3 868 1674.1 870 1673.9 872 1673.7 874 1673.5 876 1673.3 878 1673.2 880 1673 882 1672.8 884 1672.6 886 1672.5 888 1672.3 890 1672.2 892 1672 894 1671.9 896 1671.7 898 1671.6 900 1671.4 902 1671.3 904 1671.1 906 1671 908 1670.9 910 1670.7 912 1670.6 914 1670.5 916 1670.4 918 1670.3 920 1670.2 922 1670.1 924 1670 926 1669.9 928 1669.8 930 1669.7 932 1669.6 934 1669.5 936 1669.4 938 1669.3 940 1669.3 942 1669.2 944 1669.1 946 1669.1 948 1669 950 1668.9 952 1668.9 954 1668.8 956 1668.8 958 1668.7 960 1668.7 962 1668.6 964 1668.6 966 1668.5 968 1668.5 970 1668.5 972 1668.4 974 1668.4 976 1668.4 978 1668.4 980 1668.3 982 1668.3 984 1668.3 986 1668.3 988 1668.3 990 1668.3 992 1668.3 994 1668.3 996 1668.3 998 1668.3 1000 1668.3 1002 1668.3 1004 1668.3 1006 1668.3 1008 1668.3 1010 1668.3 1012 1668.3 1014 1668.3 1016 1668.4 1018 1668.4 1020 1668.4 1022 1668.4 1024 1668.5 1026 1668.5 1028 1668.5 1030 1668.5 1032 1668.6 1034 1668.6 1036 1668.6 1038 1668.7 1040 1668.7 1042 1668.8 1044 1668.8 1046 1668.8 1048 1668.9 1050 1668.9 1052 1669 1054 1669 1056 1669.1 1058 1669.1 1060 1669.2 1062 1669.2 1064 1669.3 1066 1669.3 1068 1669.4 1070 1669.4 1072 1669.5 1074 1669.6 1076 1669.6 1078 1669.7 1080 1669.7 1082 1669.8 1084 1669.9 1086 1669.9 1088 1670 1090 1670.1 1092 1670.1 1094 1670.2 1096 1670.2 1098 1670.3 1100 1670.4 1102 1670.5 1104 1670.5 1106 1670.6 1108 1670.7 1110 1670.7 1112 1670.8 1114 1670.9 1116 1670.9 1118 1671 1120 1671.1 1122 1671.2 1124 1671.2 1126 1671.3 1128 1671.4 1130 1671.4 1132 1671.5 1134 1671.6 1136 1671.7 1138 1671.7 1140 1671.8 1142 1671.9 1144 1671.9 1146 1672 1148 1672.1 1150 1672.2 1152 1672.2 1154 1672.3 1156 1672.4 1158 1672.4 1160 1672.5 1162 1672.6 1164 1672.7 1166 1672.7 1168 1672.8 1170 1672.9 1172 1672.9 1174 1673 1176 1673.1 1178 1673.1 1180 1673.2 1182 1673.3 1184 1673.4 1186 1673.4 1188 1673.5 1190 1673.6 1192 1673.6 1194 1673.7 1196 1673.8 1198 1673.8 1200 1673.9 1202 1674 1204 1674 1206 1674.1 1208 1674.2 1210 1674.3 1212 1674.3 1214 1674.4 1216 1674.5 1218 1674.5 1220 1674.6 1222 1674.7 1224 1674.7 1226 1674.8 1228 1674.9 1230 1674.9 1232 1675 1234 1675.1 1236 1675.1 1238 1675.2 1240 1675.3 1242 1675.3 1244 1675.4 1246 1675.5 1248 1675.5 1250 1675.6 1252 1675.7 1254 1675.7 1256 1675.8 1258 1675.9 1260 1675.9 1262 1676 1264 1676.1 1266 1676.1 1268 1676.2 1270 1676.3 1272 1676.3 1274 1676.4 1276 1676.5 1278 1676.5 1280 1676.6 1282 1676.7 1284 1676.7 1286 1676.8 1288 1676.9 1290 1676.9 1292 1677 1294 1677.1 1296 1677.1 1298 1677.2 1300 1677.3 1302 1677.3 1304 1677.4 1306 1677.4 1308 1677.5 1310 1677.6 1312 1677.6 1314 1677.7 1316 1677.8 1318 1677.8 1320 1677.9 1322 1678 1324 1678 1326 1678.1 1328 1678.1 1330 1678.2 1332 1678.3 1334 1678.3 1336 1678.4 1338 1678.5 1340 1678.5 1342 1678.6 1344 1678.6 1346 1678.7 1348 1678.8 1350 1678.8 1352 1678.9 1354 1678.9 1356 1679 1358 1679.1 1360 1679.1 1362 1679.2 1364 1679.2 1366 1679.3 1368 1679.4 1370 1679.4 1372 1679.5 1374 1679.5 1376 1679.6 1378 1679.7 1380 1679.7 1382 1679.8 1384 1679.8 1386 1679.9 1388 1680 1390 1680 1392 1680.1 1394 1680.1 1396 1680.2 1398 1680.2 1400 1680.3 1402 1680.4 1404 1680.4 1406 1680.5 1408 1680.5 1410 1680.6 1412 1680.6 1414 1680.7 1416 1680.8 1418 1680.8 1420 1680.9 1422 1680.9 1424 1681 1426 1681 1428 1681.1 1430 1681.1 1432 1681.2 1434 1681.3 1436 1681.3 1438 1681.4 1440 1681.4 1442 1681.5 1444 1681.5 1446 1681.6 1448 1681.6 1450 1681.7 1452 1681.7 1454 1681.8 1456 1681.8 1458 1681.9 1460 1681.9 1462 1682 1464 1682.1 1466 1682.1 1468 1682.2 1470 1682.2 1472 1682.3 1474 1682.3 1476 1682.4 1478 1682.4 1480 1682.5 1482 1682.5 1484 1682.6 1486 1682.6 1488 1682.7 1490 1682.7 1492 1682.8 1494 1682.8 1496 1682.9 1498 1682.9 1500 1683 1502 1683 1504 1683.1 1506 1683.1 1508 1683.1 1510 1683.2 1512 1683.2 1514 1683.3 1516 1683.3 1518 1683.4 1520 1683.4 1522 1683.5 1524 1683.5 1526 1683.6 1528 1683.6 1530 1683.7 1532 1683.7 1534 1683.8 1536 1683.8 1538 1683.8 1540 1683.9 1542 1683.9 1544 1684 1546 1684 1548 1684.1 1550 1684.1 1552 1684.2 1554 1684.2 1556 1684.2 1558 1684.3 1560 1684.3 1562 1684.4 1564 1684.4 1566 1684.5 1568 1684.5 1570 1684.5 1572 1684.6 1574 1684.6 1576 1684.7 1578 1684.7 1580 1684.7 1582 1684.8 1584 1684.8 1586 1684.9 1588 1684.9 1590 1684.9 1592 1685 1594 1685 1596 1685.1 1598 1685.1 1600 1685.1 1602 1685.2 1604 1685.2 1606 1685.2 1608 1685.3 1610 1685.3 1612 1685.4 1614 1685.4 1616 1685.4 1618 1685.5 1620 1685.5 1622 1685.5 1624 1685.6 1626 1685.6 1628 1685.6 1630 1685.7 1632 1685.7 1634 1685.7 1636 1685.8 1638 1685.8 1640 1685.8 1642 1685.9 1644 1685.9 1646 1685.9 1648 1686 1650 1686 1652 1686 1654 1686.1 1656 1686.1 1658 1686.1 1660 1686.2 1662 1686.2 1664 1686.2 1666 1686.3 1668 1686.3 1670 1686.3 1672 1686.3 1674 1686.4 1676 1686.4 1678 1686.4 1680 1686.5 1682 1686.5 1684 1686.5 1686 1686.5 1688 1686.6 1690 1686.6 1692 1686.6 1694 1686.7 1696 1686.7 1698 1686.7 1700 1686.7 1702 1686.8 1704 1686.8 1706 1686.8 1708 1686.8 1710 1686.9 1712 1686.9 1714 1686.9 1716 1686.9 1718 1687 1720 1687 1722 1687 1724 1687 1726 1687 1728 1687.1 1730 1687.1 1732 1687.1 1734 1687.1 1736 1687.2 1738 1687.2 1740 1687.2 1742 1687.2 1744 1687.2 1746 1687.3 1748 1687.3 1750 1687.3 1752 1687.3 1754 1687.3 1756 1687.3 1758 1687.4 1760 1687.4 1762 1687.4 1764 1687.4 1766 1687.4 1768 1687.5 1770 1687.5 1772 1687.5 1774 1687.5 1776 1687.5 1778 1687.5 1780 1687.5 1782 1687.6 1784 1687.6 1786 1687.6 1788 1687.6 1790 1687.6 1792 1687.6 1794 1687.6 1796 1687.7 1798 1687.7 1800 1687.7 1802 1687.7 1804 1687.7 1806 1687.7 1808 1687.7 1810 1687.7 1812 1687.7 1814 1687.7 1816 1687.8 1818 1687.8 1820 1687.8 1822 1687.8 1824 1687.8 1826 1687.8 1828 1687.8 1830 1687.8 1832 1687.8 1834 1687.8 1836 1687.8 1838 1687.8 1840 1687.8 1842 1687.8 1844 1687.9 1846 1687.9 1848 1687.9 1850 1687.9 1852 1687.9 1854 1687.9 1856 1687.9 1858 1687.9 1860 1687.9 1862 1687.9 1864 1687.9 1866 1687.9 1868 1687.9 1870 1687.9 1872 1687.9 1874 1687.9 1876 1687.9 1878 1687.9 1880 1687.9 1882 1687.9 1884 1687.9 1886 1687.9 1888 1687.9 1890 1687.9 1892 1687.9 1894 1687.9 1896 1687.9 1898 1687.9 1900 1687.9 1902 1687.9 1904 1687.9 1906 1687.8 1908 1687.8 1910 1687.8 1912 1687.8 1914 1687.8 1916 1687.8 1918 1687.8 1920 1687.8 1922 1687.8 1924 1687.8 1926 1687.8 1928 1687.8 1930 1687.8 1932 1687.7 1934 1687.7 1936 1687.7 1938 1687.7 1940 1687.7 1942 1687.7 1944 1687.7 1946 1687.7 1948 1687.7 1950 1687.6 1952 1687.6 1954 1687.6 1956 1687.6 1958 1687.6 1960 1687.6 1962 1687.6 1964 1687.5 1966 1687.5 1968 1687.5 1970 1687.5 1972 1687.5 1974 1687.5 1976 1687.4 1978 1687.4 1980 1687.4 1982 1687.4 1984 1687.4 1986 1687.3 1988 1687.3 1990 1687.3 1992 1687.3 1994 1687.3 1996 1687.2 1998 1687.2 2000 1687.2 2002 1687.2 2004 1687.2 2006 1687.1 2007.2 1687.1" fill="none" stroke="#00e000" stroke-width="6" stroke-linejoin="round" stroke-linecap="round"/>
</g>
<rect x="1578.4" y="1419.1" width="469.3" height="251" fill="none" stroke="#111" stroke-width="1.4"/>
<path d="M1587.1 1459.2H1711.4" stroke="#0000ff" stroke-width="5.5" stroke-linecap="round"/>
<text font-size="58.3"><tspan x="1727.2" y="1477.6">C</tspan><tspan x="1767.0" y="1477.6">H</tspan><tspan x="1808.5" y="1492.6" font-size="37.5">3</tspan><tspan x="1829.5" y="1477.6">N</tspan><tspan x="1869.3" y="1477.6">H</tspan><tspan x="1910.2" y="1492.6" font-size="37.5">3</tspan><tspan x="1930.4" y="1477.6">P</tspan><tspan x="1968.2" y="1477.6">b</tspan><tspan x="1997.8" y="1477.6">I</tspan><tspan x="2016.0" y="1492.6" font-size="37.5">3</tspan></text>
<path d="M1587.1 1539.2H1711.4" stroke="#ff4040" stroke-width="5.5" stroke-linecap="round"/>
<text font-size="58.3"><tspan x="1727.2" y="1557.9">C</tspan><tspan x="1767.0" y="1557.9">H</tspan><tspan x="1808.5" y="1572.9" font-size="37.5">3</tspan><tspan x="1829.5" y="1557.9">N</tspan><tspan x="1869.3" y="1557.9">H</tspan><tspan x="1910.2" y="1572.9" font-size="37.5">3</tspan><tspan x="1930.5" y="1557.9">C</tspan><tspan x="1971.7" y="1557.9">d</tspan><tspan x="2001.3" y="1557.9">I</tspan><tspan x="2018.1" y="1572.9" font-size="37.5">3</tspan></text>
<path d="M1587.1 1620.8H1711.4" stroke="#00e000" stroke-width="5.5" stroke-linecap="round"/>
<text font-size="58.3"><tspan x="1727.2" y="1638.5">C</tspan><tspan x="1767.0" y="1638.5">H</tspan><tspan x="1808.5" y="1653.5" font-size="37.5">3</tspan><tspan x="1829.5" y="1638.5">N</tspan><tspan x="1869.3" y="1638.5">H</tspan><tspan x="1910.2" y="1653.5" font-size="37.5">3</tspan><tspan x="1930.3" y="1638.5">Z</tspan><tspan x="1966.4" y="1638.5">n</tspan><tspan x="1995.3" y="1638.5">I</tspan><tspan x="2012.1" y="1653.5" font-size="37.5">3</tspan></text>
</svg>
</body></html>
